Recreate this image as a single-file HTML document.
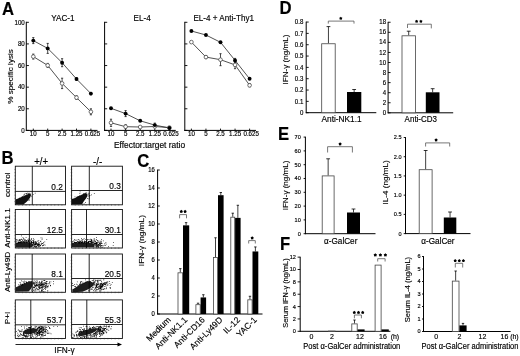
<!DOCTYPE html>
<html><head><meta charset="utf-8"><style>
html,body{margin:0;padding:0;background:#fff;width:520px;height:356px;overflow:hidden}
svg{display:block;filter:blur(0.35px)}
text{font-family:"Liberation Sans",sans-serif;fill:#000;stroke:#000;stroke-width:0.15px}
</style></head><body>
<svg width="520" height="356" viewBox="0 0 520 356">
<rect width="520" height="356" fill="#fff"/>
<text transform="translate(1.98,15) scale(0.97,1.06)" font-size="17.2" font-weight="bold">A</text>
<line x1="26.3" y1="21.8" x2="26.3" y2="130.85" stroke="#000" stroke-width="1.0"/>
<line x1="25.8" y1="130.4" x2="97.5" y2="130.4" stroke="#000" stroke-width="1.0"/>
<line x1="26.3" y1="130.4" x2="28.9" y2="130.4" stroke="#000" stroke-width="0.9"/>
<text transform="translate(24.8,132.6) scale(1,1.1)" font-size="6.2" text-anchor="end">0</text>
<line x1="26.3" y1="108.78" x2="28.9" y2="108.78" stroke="#000" stroke-width="0.9"/>
<text transform="translate(24.8,110.98) scale(1,1.1)" font-size="6.2" text-anchor="end">20</text>
<line x1="26.3" y1="87.16" x2="28.9" y2="87.16" stroke="#000" stroke-width="0.9"/>
<text transform="translate(24.8,89.36) scale(1,1.1)" font-size="6.2" text-anchor="end">40</text>
<line x1="26.3" y1="65.54" x2="28.9" y2="65.54" stroke="#000" stroke-width="0.9"/>
<text transform="translate(24.8,67.74) scale(1,1.1)" font-size="6.2" text-anchor="end">60</text>
<line x1="26.3" y1="43.92" x2="28.9" y2="43.92" stroke="#000" stroke-width="0.9"/>
<text transform="translate(24.8,46.12) scale(1,1.1)" font-size="6.2" text-anchor="end">80</text>
<line x1="26.3" y1="22.3" x2="28.9" y2="22.3" stroke="#000" stroke-width="0.9"/>
<text transform="translate(24.8,24.5) scale(1,1.1)" font-size="6.2" text-anchor="end">100</text>
<line x1="33.3" y1="130.4" x2="33.3" y2="128.6" stroke="#000" stroke-width="0.9"/>
<text transform="translate(33.3,136.4) scale(1,1.1)" font-size="6.2" text-anchor="middle">10</text>
<line x1="47.7" y1="130.4" x2="47.7" y2="128.6" stroke="#000" stroke-width="0.9"/>
<text transform="translate(47.7,136.4) scale(1,1.1)" font-size="6.2" text-anchor="middle">5</text>
<line x1="62.1" y1="130.4" x2="62.1" y2="128.6" stroke="#000" stroke-width="0.9"/>
<text transform="translate(62.1,136.4) scale(1,1.1)" font-size="6.2" text-anchor="middle">2.5</text>
<line x1="76.5" y1="130.4" x2="76.5" y2="128.6" stroke="#000" stroke-width="0.9"/>
<text transform="translate(76.5,136.4) scale(1,1.1)" font-size="6.2" text-anchor="middle">1.25</text>
<line x1="90.9" y1="130.4" x2="90.9" y2="128.6" stroke="#000" stroke-width="0.9"/>
<text transform="translate(92.5,136.4) scale(1,1.1)" font-size="6.2" text-anchor="middle">0.625</text>
<text transform="translate(62.9,21.2) scale(1,1.1)" font-size="8.1" text-anchor="middle">YAC-1</text>
<line x1="104.6" y1="21.8" x2="104.6" y2="130.85" stroke="#000" stroke-width="1.0"/>
<line x1="104.1" y1="130.4" x2="175.8" y2="130.4" stroke="#000" stroke-width="1.0"/>
<line x1="104.6" y1="130.4" x2="107.2" y2="130.4" stroke="#000" stroke-width="0.9"/>
<line x1="104.6" y1="108.78" x2="107.2" y2="108.78" stroke="#000" stroke-width="0.9"/>
<line x1="104.6" y1="87.16" x2="107.2" y2="87.16" stroke="#000" stroke-width="0.9"/>
<line x1="104.6" y1="65.54" x2="107.2" y2="65.54" stroke="#000" stroke-width="0.9"/>
<line x1="104.6" y1="43.92" x2="107.2" y2="43.92" stroke="#000" stroke-width="0.9"/>
<line x1="104.6" y1="22.3" x2="107.2" y2="22.3" stroke="#000" stroke-width="0.9"/>
<line x1="111" y1="130.4" x2="111" y2="128.6" stroke="#000" stroke-width="0.9"/>
<text transform="translate(111,136.4) scale(1,1.1)" font-size="6.2" text-anchor="middle">10</text>
<line x1="125.6" y1="130.4" x2="125.6" y2="128.6" stroke="#000" stroke-width="0.9"/>
<text transform="translate(125.6,136.4) scale(1,1.1)" font-size="6.2" text-anchor="middle">5</text>
<line x1="140.2" y1="130.4" x2="140.2" y2="128.6" stroke="#000" stroke-width="0.9"/>
<text transform="translate(140.2,136.4) scale(1,1.1)" font-size="6.2" text-anchor="middle">2.5</text>
<line x1="154.8" y1="130.4" x2="154.8" y2="128.6" stroke="#000" stroke-width="0.9"/>
<text transform="translate(154.8,136.4) scale(1,1.1)" font-size="6.2" text-anchor="middle">1.25</text>
<line x1="169.4" y1="130.4" x2="169.4" y2="128.6" stroke="#000" stroke-width="0.9"/>
<text transform="translate(171,136.4) scale(1,1.1)" font-size="6.2" text-anchor="middle">0.625</text>
<text transform="translate(142.1,21.2) scale(1,1.1)" font-size="8.1" text-anchor="middle">EL-4</text>
<line x1="184.8" y1="21.8" x2="184.8" y2="130.85" stroke="#000" stroke-width="1.0"/>
<line x1="184.3" y1="130.4" x2="256" y2="130.4" stroke="#000" stroke-width="1.0"/>
<line x1="184.8" y1="130.4" x2="187.4" y2="130.4" stroke="#000" stroke-width="0.9"/>
<line x1="184.8" y1="108.78" x2="187.4" y2="108.78" stroke="#000" stroke-width="0.9"/>
<line x1="184.8" y1="87.16" x2="187.4" y2="87.16" stroke="#000" stroke-width="0.9"/>
<line x1="184.8" y1="65.54" x2="187.4" y2="65.54" stroke="#000" stroke-width="0.9"/>
<line x1="184.8" y1="43.92" x2="187.4" y2="43.92" stroke="#000" stroke-width="0.9"/>
<line x1="184.8" y1="22.3" x2="187.4" y2="22.3" stroke="#000" stroke-width="0.9"/>
<line x1="191.4" y1="130.4" x2="191.4" y2="128.6" stroke="#000" stroke-width="0.9"/>
<text transform="translate(191.4,136.4) scale(1,1.1)" font-size="6.2" text-anchor="middle">10</text>
<line x1="205.95" y1="130.4" x2="205.95" y2="128.6" stroke="#000" stroke-width="0.9"/>
<text transform="translate(205.95,136.4) scale(1,1.1)" font-size="6.2" text-anchor="middle">5</text>
<line x1="220.5" y1="130.4" x2="220.5" y2="128.6" stroke="#000" stroke-width="0.9"/>
<text transform="translate(220.5,136.4) scale(1,1.1)" font-size="6.2" text-anchor="middle">2.5</text>
<line x1="235.05" y1="130.4" x2="235.05" y2="128.6" stroke="#000" stroke-width="0.9"/>
<text transform="translate(235.05,136.4) scale(1,1.1)" font-size="6.2" text-anchor="middle">1.25</text>
<line x1="249.6" y1="130.4" x2="249.6" y2="128.6" stroke="#000" stroke-width="0.9"/>
<text transform="translate(251.2,136.4) scale(1,1.1)" font-size="6.2" text-anchor="middle">0.625</text>
<text transform="translate(223.7,21.2) scale(1,1.1)" font-size="8.1" text-anchor="middle">EL-4 + Anti-Thy1</text>
<text transform="translate(13.3,76.4) rotate(-90) scale(1,0.909)" font-size="8.15" text-anchor="middle">% specific lysis</text>
<text transform="translate(149.5,147.9) scale(1,1.1)" font-size="8.4" text-anchor="middle">Effector:target ratio</text>
<polyline points="33.3,56.6 47.7,65.4 62.1,83.4 76.5,97.6 90.9,111.8" fill="none" stroke="#333" stroke-width="0.85"/>
<polyline points="33.3,40.6 47.7,48.4 62.1,62.7 76.5,79 90.9,93.6" fill="none" stroke="#333" stroke-width="0.85"/>
<line x1="33.3" y1="54.1" x2="33.3" y2="59.1" stroke="#000" stroke-width="0.7"/>
<line x1="32.2" y1="54.1" x2="34.4" y2="54.1" stroke="#000" stroke-width="0.7"/>
<line x1="32.2" y1="59.1" x2="34.4" y2="59.1" stroke="#000" stroke-width="0.7"/>
<line x1="47.7" y1="63.4" x2="47.7" y2="67.4" stroke="#000" stroke-width="0.7"/>
<line x1="46.6" y1="63.4" x2="48.8" y2="63.4" stroke="#000" stroke-width="0.7"/>
<line x1="46.6" y1="67.4" x2="48.8" y2="67.4" stroke="#000" stroke-width="0.7"/>
<line x1="62.1" y1="78.2" x2="62.1" y2="88.6" stroke="#000" stroke-width="0.7"/>
<line x1="61" y1="78.2" x2="63.2" y2="78.2" stroke="#000" stroke-width="0.7"/>
<line x1="61" y1="88.6" x2="63.2" y2="88.6" stroke="#000" stroke-width="0.7"/>
<line x1="76.5" y1="95.8" x2="76.5" y2="99.4" stroke="#000" stroke-width="0.7"/>
<line x1="75.4" y1="95.8" x2="77.6" y2="95.8" stroke="#000" stroke-width="0.7"/>
<line x1="75.4" y1="99.4" x2="77.6" y2="99.4" stroke="#000" stroke-width="0.7"/>
<line x1="90.9" y1="108.8" x2="90.9" y2="114.8" stroke="#000" stroke-width="0.7"/>
<line x1="89.8" y1="108.8" x2="92" y2="108.8" stroke="#000" stroke-width="0.7"/>
<line x1="89.8" y1="114.8" x2="92" y2="114.8" stroke="#000" stroke-width="0.7"/>
<line x1="33.3" y1="37.6" x2="33.3" y2="43.6" stroke="#000" stroke-width="0.7"/>
<line x1="32.2" y1="37.6" x2="34.4" y2="37.6" stroke="#000" stroke-width="0.7"/>
<line x1="32.2" y1="43.6" x2="34.4" y2="43.6" stroke="#000" stroke-width="0.7"/>
<line x1="47.7" y1="43.4" x2="47.7" y2="53.4" stroke="#000" stroke-width="0.7"/>
<line x1="46.6" y1="43.4" x2="48.8" y2="43.4" stroke="#000" stroke-width="0.7"/>
<line x1="46.6" y1="53.4" x2="48.8" y2="53.4" stroke="#000" stroke-width="0.7"/>
<line x1="62.1" y1="58.7" x2="62.1" y2="66.7" stroke="#000" stroke-width="0.7"/>
<line x1="61" y1="58.7" x2="63.2" y2="58.7" stroke="#000" stroke-width="0.7"/>
<line x1="61" y1="66.7" x2="63.2" y2="66.7" stroke="#000" stroke-width="0.7"/>
<line x1="76.5" y1="77.8" x2="76.5" y2="80.2" stroke="#000" stroke-width="0.7"/>
<line x1="75.4" y1="77.8" x2="77.6" y2="77.8" stroke="#000" stroke-width="0.7"/>
<line x1="75.4" y1="80.2" x2="77.6" y2="80.2" stroke="#000" stroke-width="0.7"/>
<line x1="90.9" y1="92.4" x2="90.9" y2="94.8" stroke="#000" stroke-width="0.7"/>
<line x1="89.8" y1="92.4" x2="92" y2="92.4" stroke="#000" stroke-width="0.7"/>
<line x1="89.8" y1="94.8" x2="92" y2="94.8" stroke="#000" stroke-width="0.7"/>
<circle cx="33.3" cy="56.6" r="1.85" fill="#fff" stroke="#444" stroke-width="0.75"/>
<circle cx="47.7" cy="65.4" r="1.85" fill="#fff" stroke="#444" stroke-width="0.75"/>
<circle cx="62.1" cy="83.4" r="1.85" fill="#fff" stroke="#444" stroke-width="0.75"/>
<circle cx="76.5" cy="97.6" r="1.85" fill="#fff" stroke="#444" stroke-width="0.75"/>
<circle cx="90.9" cy="111.8" r="1.85" fill="#fff" stroke="#444" stroke-width="0.75"/>
<circle cx="33.3" cy="40.6" r="1.95" fill="#000"/>
<circle cx="47.7" cy="48.4" r="1.95" fill="#000"/>
<circle cx="62.1" cy="62.7" r="1.95" fill="#000"/>
<circle cx="76.5" cy="79" r="1.95" fill="#000"/>
<circle cx="90.9" cy="93.6" r="1.95" fill="#000"/>
<polyline points="111,122.8 125.6,126.7 140.2,127 154.8,126.5 169.4,127.6" fill="none" stroke="#333" stroke-width="0.85"/>
<polyline points="111,108.3 125.6,113.6 140.2,120.8 154.8,125.1 169.4,128" fill="none" stroke="#333" stroke-width="0.85"/>
<line x1="111" y1="119.2" x2="111" y2="126.4" stroke="#000" stroke-width="0.7"/>
<line x1="109.9" y1="119.2" x2="112.1" y2="119.2" stroke="#000" stroke-width="0.7"/>
<line x1="109.9" y1="126.4" x2="112.1" y2="126.4" stroke="#000" stroke-width="0.7"/>
<line x1="125.6" y1="124.7" x2="125.6" y2="128.7" stroke="#000" stroke-width="0.7"/>
<line x1="124.5" y1="124.7" x2="126.7" y2="124.7" stroke="#000" stroke-width="0.7"/>
<line x1="124.5" y1="128.7" x2="126.7" y2="128.7" stroke="#000" stroke-width="0.7"/>
<line x1="125.6" y1="110.6" x2="125.6" y2="116.6" stroke="#000" stroke-width="0.7"/>
<line x1="124.5" y1="110.6" x2="126.7" y2="110.6" stroke="#000" stroke-width="0.7"/>
<line x1="124.5" y1="116.6" x2="126.7" y2="116.6" stroke="#000" stroke-width="0.7"/>
<line x1="154.8" y1="123.1" x2="154.8" y2="127.1" stroke="#000" stroke-width="0.7"/>
<line x1="153.7" y1="123.1" x2="155.9" y2="123.1" stroke="#000" stroke-width="0.7"/>
<line x1="153.7" y1="127.1" x2="155.9" y2="127.1" stroke="#000" stroke-width="0.7"/>
<circle cx="111" cy="122.8" r="1.85" fill="#fff" stroke="#444" stroke-width="0.75"/>
<circle cx="125.6" cy="126.7" r="1.85" fill="#fff" stroke="#444" stroke-width="0.75"/>
<circle cx="140.2" cy="127" r="1.85" fill="#fff" stroke="#444" stroke-width="0.75"/>
<circle cx="154.8" cy="126.5" r="1.85" fill="#fff" stroke="#444" stroke-width="0.75"/>
<circle cx="169.4" cy="127.6" r="1.85" fill="#fff" stroke="#444" stroke-width="0.75"/>
<circle cx="111" cy="108.3" r="1.95" fill="#000"/>
<circle cx="125.6" cy="113.6" r="1.95" fill="#000"/>
<circle cx="140.2" cy="120.8" r="1.95" fill="#000"/>
<circle cx="154.8" cy="125.1" r="1.95" fill="#000"/>
<circle cx="169.4" cy="128" r="1.95" fill="#000"/>
<polyline points="191.4,42.1 205.95,57.1 220.5,59.7 235.05,64.9 249.6,85.3" fill="none" stroke="#333" stroke-width="0.85"/>
<polyline points="191.4,31 205.95,35 220.5,42.3 235.05,60.4 249.6,78.8" fill="none" stroke="#333" stroke-width="0.85"/>
<line x1="205.95" y1="55.6" x2="205.95" y2="58.6" stroke="#000" stroke-width="0.7"/>
<line x1="204.85" y1="55.6" x2="207.05" y2="55.6" stroke="#000" stroke-width="0.7"/>
<line x1="204.85" y1="58.6" x2="207.05" y2="58.6" stroke="#000" stroke-width="0.7"/>
<line x1="220.5" y1="53.7" x2="220.5" y2="65.7" stroke="#000" stroke-width="0.7"/>
<line x1="219.4" y1="53.7" x2="221.6" y2="53.7" stroke="#000" stroke-width="0.7"/>
<line x1="219.4" y1="65.7" x2="221.6" y2="65.7" stroke="#000" stroke-width="0.7"/>
<line x1="235.05" y1="61.1" x2="235.05" y2="68.7" stroke="#000" stroke-width="0.7"/>
<line x1="233.95" y1="61.1" x2="236.15" y2="61.1" stroke="#000" stroke-width="0.7"/>
<line x1="233.95" y1="68.7" x2="236.15" y2="68.7" stroke="#000" stroke-width="0.7"/>
<line x1="249.6" y1="83.8" x2="249.6" y2="86.8" stroke="#000" stroke-width="0.7"/>
<line x1="248.5" y1="83.8" x2="250.7" y2="83.8" stroke="#000" stroke-width="0.7"/>
<line x1="248.5" y1="86.8" x2="250.7" y2="86.8" stroke="#000" stroke-width="0.7"/>
<line x1="235.05" y1="58.4" x2="235.05" y2="62.4" stroke="#000" stroke-width="0.7"/>
<line x1="233.95" y1="58.4" x2="236.15" y2="58.4" stroke="#000" stroke-width="0.7"/>
<line x1="233.95" y1="62.4" x2="236.15" y2="62.4" stroke="#000" stroke-width="0.7"/>
<circle cx="191.4" cy="42.1" r="1.85" fill="#fff" stroke="#444" stroke-width="0.75"/>
<circle cx="205.95" cy="57.1" r="1.85" fill="#fff" stroke="#444" stroke-width="0.75"/>
<circle cx="220.5" cy="59.7" r="1.85" fill="#fff" stroke="#444" stroke-width="0.75"/>
<circle cx="235.05" cy="64.9" r="1.85" fill="#fff" stroke="#444" stroke-width="0.75"/>
<circle cx="249.6" cy="85.3" r="1.85" fill="#fff" stroke="#444" stroke-width="0.75"/>
<circle cx="191.4" cy="31" r="1.95" fill="#000"/>
<circle cx="205.95" cy="35" r="1.95" fill="#000"/>
<circle cx="220.5" cy="42.3" r="1.95" fill="#000"/>
<circle cx="235.05" cy="60.4" r="1.95" fill="#000"/>
<circle cx="249.6" cy="78.8" r="1.95" fill="#000"/>
<text transform="translate(1.48,163.8) scale(0.97,1.06)" font-size="17.2" font-weight="bold">B</text>
<text transform="translate(41.1,164.9) scale(1,1.1)" font-size="9.6" text-anchor="middle">+/+</text>
<text transform="translate(97.6,164.7) scale(1,1.1)" font-size="9.8" text-anchor="middle">-/-</text>
<path d="M15.5 199.7L18.0 198.6L21.6 197.0L25.6 195.2L29.2 193.5L30.6 193.6L31.0 195.2L30.0 197.8L28.2 200.3L26.2 202.2L24.6 203.6L23.6 204.4L15.5 204.4z" fill="#111" fill-opacity="1"/>
<path d="M23.1 194.7h0.75v0.75h-0.75zM21.9 196.0h0.75v0.75h-0.75zM19.3 197.7h0.75v0.75h-0.75zM31.3 195.7h0.75v0.75h-0.75zM24.7 192.9h0.75v0.75h-0.75zM28.3 192.9h0.75v0.75h-0.75zM27.3 192.8h0.75v0.75h-0.75zM32.8 193.9h0.75v0.75h-0.75zM34.8 192.7h0.75v0.75h-0.75zM26.3 193.7h0.75v0.75h-0.75zM28.9 199.6h0.75v0.75h-0.75zM26.3 192.9h0.75v0.75h-0.75zM24.3 194.0h0.75v0.75h-0.75zM24.7 195.3h0.75v0.75h-0.75zM16.3 198.9h0.75v0.75h-0.75zM28.7 192.8h0.75v0.75h-0.75zM21.6 196.7h0.75v0.75h-0.75zM28.6 200.0h0.75v0.75h-0.75z" fill="#000" fill-opacity="1.0"/>
<rect x="15.3" y="166.2" width="50.2" height="38.6" fill="none" stroke="#111" stroke-width="0.9"/>
<line x1="32.3" y1="166.2" x2="32.3" y2="204.8" stroke="#000" stroke-width="0.85"/>
<line x1="15.3" y1="191.4" x2="65.5" y2="191.4" stroke="#000" stroke-width="0.85"/>
<line x1="14.4" y1="201.58" x2="15.9" y2="201.58" stroke="#333" stroke-width="0.5"/>
<line x1="14.4" y1="198.37" x2="15.9" y2="198.37" stroke="#333" stroke-width="0.5"/>
<line x1="14.4" y1="195.15" x2="15.9" y2="195.15" stroke="#333" stroke-width="0.5"/>
<line x1="14.4" y1="191.93" x2="15.9" y2="191.93" stroke="#333" stroke-width="0.5"/>
<line x1="14.4" y1="188.72" x2="15.9" y2="188.72" stroke="#333" stroke-width="0.5"/>
<line x1="14.4" y1="185.5" x2="15.9" y2="185.5" stroke="#333" stroke-width="0.5"/>
<line x1="14.4" y1="182.28" x2="15.9" y2="182.28" stroke="#333" stroke-width="0.5"/>
<line x1="14.4" y1="179.07" x2="15.9" y2="179.07" stroke="#333" stroke-width="0.5"/>
<line x1="14.4" y1="175.85" x2="15.9" y2="175.85" stroke="#333" stroke-width="0.5"/>
<line x1="14.4" y1="172.63" x2="15.9" y2="172.63" stroke="#333" stroke-width="0.5"/>
<line x1="14.4" y1="169.42" x2="15.9" y2="169.42" stroke="#333" stroke-width="0.5"/>
<line x1="18.89" y1="204.2" x2="18.89" y2="205.7" stroke="#333" stroke-width="0.5"/>
<line x1="22.47" y1="204.2" x2="22.47" y2="205.7" stroke="#333" stroke-width="0.5"/>
<line x1="26.06" y1="204.2" x2="26.06" y2="205.7" stroke="#333" stroke-width="0.5"/>
<line x1="29.64" y1="204.2" x2="29.64" y2="205.7" stroke="#333" stroke-width="0.5"/>
<line x1="33.23" y1="204.2" x2="33.23" y2="205.7" stroke="#333" stroke-width="0.5"/>
<line x1="36.81" y1="204.2" x2="36.81" y2="205.7" stroke="#333" stroke-width="0.5"/>
<line x1="40.4" y1="204.2" x2="40.4" y2="205.7" stroke="#333" stroke-width="0.5"/>
<line x1="43.99" y1="204.2" x2="43.99" y2="205.7" stroke="#333" stroke-width="0.5"/>
<line x1="47.57" y1="204.2" x2="47.57" y2="205.7" stroke="#333" stroke-width="0.5"/>
<line x1="51.16" y1="204.2" x2="51.16" y2="205.7" stroke="#333" stroke-width="0.5"/>
<line x1="54.74" y1="204.2" x2="54.74" y2="205.7" stroke="#333" stroke-width="0.5"/>
<line x1="58.33" y1="204.2" x2="58.33" y2="205.7" stroke="#333" stroke-width="0.5"/>
<line x1="61.91" y1="204.2" x2="61.91" y2="205.7" stroke="#333" stroke-width="0.5"/>
<text transform="translate(62.9,189.7) scale(1,1.07)" font-size="8.3" text-anchor="end">0.2</text>
<path d="M72.0 199.0L75.1 198.0L77.6 196.5L81.1 194.9L85.2 193.1L87.4 193.8L87.4 196.0L86.0 198.6L84.0 201.0L82.8 203.0L82.2 204.3L72.0 204.4z" fill="#111" fill-opacity="1"/>
<path d="M85.7 192.1h0.75v0.75h-0.75zM87.2 198.3h0.75v0.75h-0.75zM89.0 197.5h0.75v0.75h-0.75zM88.5 193.4h0.75v0.75h-0.75zM77.5 196.5h0.75v0.75h-0.75zM79.3 195.6h0.75v0.75h-0.75zM74.6 196.4h0.75v0.75h-0.75zM79.5 192.9h0.75v0.75h-0.75zM85.2 202.1h0.75v0.75h-0.75zM88.7 192.8h0.75v0.75h-0.75zM93.9 193.2h0.75v0.75h-0.75zM79.7 191.4h0.75v0.75h-0.75zM88.4 194.5h0.75v0.75h-0.75zM88.5 198.4h0.75v0.75h-0.75zM91.2 194.5h0.75v0.75h-0.75zM89.2 195.6h0.75v0.75h-0.75zM89.6 194.9h0.75v0.75h-0.75zM77.8 196.3h0.75v0.75h-0.75zM76.5 196.8h0.75v0.75h-0.75zM87.8 195.7h0.75v0.75h-0.75zM89.0 195.7h0.75v0.75h-0.75zM83.4 193.3h0.75v0.75h-0.75zM83.7 203.5h0.75v0.75h-0.75z" fill="#000" fill-opacity="1.0"/>
<rect x="71.6" y="166.2" width="50.8" height="38.6" fill="none" stroke="#111" stroke-width="0.9"/>
<line x1="89.3" y1="166.2" x2="89.3" y2="204.8" stroke="#000" stroke-width="0.85"/>
<line x1="71.6" y1="190.5" x2="122.4" y2="190.5" stroke="#000" stroke-width="0.85"/>
<line x1="70.7" y1="201.58" x2="72.2" y2="201.58" stroke="#333" stroke-width="0.5"/>
<line x1="70.7" y1="198.37" x2="72.2" y2="198.37" stroke="#333" stroke-width="0.5"/>
<line x1="70.7" y1="195.15" x2="72.2" y2="195.15" stroke="#333" stroke-width="0.5"/>
<line x1="70.7" y1="191.93" x2="72.2" y2="191.93" stroke="#333" stroke-width="0.5"/>
<line x1="70.7" y1="188.72" x2="72.2" y2="188.72" stroke="#333" stroke-width="0.5"/>
<line x1="70.7" y1="185.5" x2="72.2" y2="185.5" stroke="#333" stroke-width="0.5"/>
<line x1="70.7" y1="182.28" x2="72.2" y2="182.28" stroke="#333" stroke-width="0.5"/>
<line x1="70.7" y1="179.07" x2="72.2" y2="179.07" stroke="#333" stroke-width="0.5"/>
<line x1="70.7" y1="175.85" x2="72.2" y2="175.85" stroke="#333" stroke-width="0.5"/>
<line x1="70.7" y1="172.63" x2="72.2" y2="172.63" stroke="#333" stroke-width="0.5"/>
<line x1="70.7" y1="169.42" x2="72.2" y2="169.42" stroke="#333" stroke-width="0.5"/>
<line x1="75.23" y1="204.2" x2="75.23" y2="205.7" stroke="#333" stroke-width="0.5"/>
<line x1="78.86" y1="204.2" x2="78.86" y2="205.7" stroke="#333" stroke-width="0.5"/>
<line x1="82.49" y1="204.2" x2="82.49" y2="205.7" stroke="#333" stroke-width="0.5"/>
<line x1="86.11" y1="204.2" x2="86.11" y2="205.7" stroke="#333" stroke-width="0.5"/>
<line x1="89.74" y1="204.2" x2="89.74" y2="205.7" stroke="#333" stroke-width="0.5"/>
<line x1="93.37" y1="204.2" x2="93.37" y2="205.7" stroke="#333" stroke-width="0.5"/>
<line x1="97" y1="204.2" x2="97" y2="205.7" stroke="#333" stroke-width="0.5"/>
<line x1="100.63" y1="204.2" x2="100.63" y2="205.7" stroke="#333" stroke-width="0.5"/>
<line x1="104.26" y1="204.2" x2="104.26" y2="205.7" stroke="#333" stroke-width="0.5"/>
<line x1="107.89" y1="204.2" x2="107.89" y2="205.7" stroke="#333" stroke-width="0.5"/>
<line x1="111.51" y1="204.2" x2="111.51" y2="205.7" stroke="#333" stroke-width="0.5"/>
<line x1="115.14" y1="204.2" x2="115.14" y2="205.7" stroke="#333" stroke-width="0.5"/>
<line x1="118.77" y1="204.2" x2="118.77" y2="205.7" stroke="#333" stroke-width="0.5"/>
<text transform="translate(120.8,188.8) scale(1,1.07)" font-size="8.3" text-anchor="end">0.3</text>
<path d="M15.5 243.6L20.0 242.8L26.0 242.3L30.0 242.6L33.0 243.8L33.5 246.0L31.0 247.4L15.5 247.4z" fill="#111" fill-opacity="0.95"/>
<path d="M24.0 240.3h0.75v0.75h-0.75zM20.5 239.0h0.75v0.75h-0.75zM22.1 240.4h0.75v0.75h-0.75zM38.6 245.0h0.75v0.75h-0.75zM32.7 241.7h0.75v0.75h-0.75zM22.5 239.4h0.75v0.75h-0.75zM29.0 239.6h0.75v0.75h-0.75zM19.0 240.4h0.75v0.75h-0.75zM36.0 246.6h0.75v0.75h-0.75zM27.9 240.0h0.75v0.75h-0.75zM23.5 242.0h0.75v0.75h-0.75zM23.3 242.2h0.75v0.75h-0.75zM22.6 237.3h0.75v0.75h-0.75zM25.2 240.5h0.75v0.75h-0.75zM23.7 241.8h0.75v0.75h-0.75zM18.2 240.5h0.75v0.75h-0.75zM21.0 242.0h0.75v0.75h-0.75zM42.6 243.0h0.75v0.75h-0.75zM32.9 238.1h0.75v0.75h-0.75zM28.1 241.2h0.75v0.75h-0.75zM33.5 241.4h0.75v0.75h-0.75zM33.3 243.9h0.75v0.75h-0.75zM37.3 243.8h0.75v0.75h-0.75zM35.3 242.1h0.75v0.75h-0.75zM34.7 243.8h0.75v0.75h-0.75zM36.2 246.5h0.75v0.75h-0.75zM34.9 240.9h0.75v0.75h-0.75zM33.4 242.7h0.75v0.75h-0.75zM23.0 241.2h0.75v0.75h-0.75zM24.2 240.3h0.75v0.75h-0.75zM20.2 242.1h0.75v0.75h-0.75zM16.5 243.0h0.75v0.75h-0.75zM46.4 239.3h0.75v0.75h-0.75zM24.0 241.3h0.75v0.75h-0.75zM38.9 242.5h0.75v0.75h-0.75zM36.3 244.6h0.75v0.75h-0.75zM31.2 242.1h0.75v0.75h-0.75zM31.2 239.6h0.75v0.75h-0.75zM35.9 242.4h0.75v0.75h-0.75zM15.8 240.5h0.75v0.75h-0.75zM37.5 244.8h0.75v0.75h-0.75zM19.8 242.2h0.75v0.75h-0.75zM15.9 241.0h0.75v0.75h-0.75zM35.1 242.9h0.75v0.75h-0.75zM30.8 242.0h0.75v0.75h-0.75zM36.1 242.9h0.75v0.75h-0.75zM21.8 242.3h0.75v0.75h-0.75zM27.8 240.0h0.75v0.75h-0.75zM26.5 242.2h0.75v0.75h-0.75zM37.3 240.8h0.75v0.75h-0.75zM21.0 235.5h0.75v0.75h-0.75zM20.0 241.8h0.75v0.75h-0.75zM27.7 241.5h0.75v0.75h-0.75zM23.7 238.7h0.75v0.75h-0.75zM34.7 242.9h0.75v0.75h-0.75zM37.4 243.9h0.75v0.75h-0.75zM33.8 242.1h0.75v0.75h-0.75zM43.1 242.2h0.75v0.75h-0.75zM28.2 240.1h0.75v0.75h-0.75zM30.1 240.1h0.75v0.75h-0.75zM18.4 242.5h0.75v0.75h-0.75zM33.9 244.4h0.75v0.75h-0.75zM41.7 239.0h0.75v0.75h-0.75zM21.8 241.3h0.75v0.75h-0.75zM23.8 239.2h0.75v0.75h-0.75zM27.6 242.1h0.75v0.75h-0.75zM16.9 242.9h0.75v0.75h-0.75zM23.6 242.2h0.75v0.75h-0.75zM17.7 242.8h0.75v0.75h-0.75zM28.2 240.5h0.75v0.75h-0.75zM33.6 239.3h0.75v0.75h-0.75zM34.4 243.3h0.75v0.75h-0.75zM31.0 242.8h0.75v0.75h-0.75zM29.8 241.8h0.75v0.75h-0.75zM20.9 242.5h0.75v0.75h-0.75zM21.8 242.4h0.75v0.75h-0.75zM26.8 240.9h0.75v0.75h-0.75zM41.8 237.7h0.75v0.75h-0.75zM23.3 242.2h0.75v0.75h-0.75zM41.2 244.0h0.75v0.75h-0.75zM34.1 244.1h0.75v0.75h-0.75zM33.5 245.6h0.75v0.75h-0.75zM31.1 237.9h0.75v0.75h-0.75zM44.4 241.5h0.75v0.75h-0.75zM31.1 242.7h0.75v0.75h-0.75zM33.2 241.9h0.75v0.75h-0.75zM25.3 242.1h0.75v0.75h-0.75zM21.3 238.7h0.75v0.75h-0.75zM33.9 244.6h0.75v0.75h-0.75zM15.8 242.0h0.75v0.75h-0.75zM19.2 242.3h0.75v0.75h-0.75zM35.0 244.3h0.75v0.75h-0.75zM25.2 239.6h0.75v0.75h-0.75zM22.6 239.7h0.75v0.75h-0.75zM40.6 237.5h0.75v0.75h-0.75zM22.3 239.4h0.75v0.75h-0.75zM28.4 238.4h0.75v0.75h-0.75zM24.2 242.4h0.75v0.75h-0.75zM16.7 239.2h0.75v0.75h-0.75zM19.1 242.1h0.75v0.75h-0.75zM31.1 241.6h0.75v0.75h-0.75zM18.5 242.1h0.75v0.75h-0.75zM25.9 242.0h0.75v0.75h-0.75zM34.5 243.6h0.75v0.75h-0.75zM26.6 242.1h0.75v0.75h-0.75zM17.7 242.1h0.75v0.75h-0.75zM17.5 241.9h0.75v0.75h-0.75zM33.6 240.8h0.75v0.75h-0.75zM35.5 244.0h0.75v0.75h-0.75zM17.1 242.9h0.75v0.75h-0.75zM18.7 241.7h0.75v0.75h-0.75zM36.0 242.3h0.75v0.75h-0.75zM33.5 244.6h0.75v0.75h-0.75zM37.0 245.3h0.75v0.75h-0.75zM34.1 244.0h0.75v0.75h-0.75zM40.0 245.3h0.75v0.75h-0.75zM26.6 240.1h0.75v0.75h-0.75zM39.4 244.0h0.75v0.75h-0.75zM23.7 241.1h0.75v0.75h-0.75zM23.5 241.2h0.75v0.75h-0.75zM18.8 239.4h0.75v0.75h-0.75zM22.5 242.0h0.75v0.75h-0.75zM15.9 242.9h0.75v0.75h-0.75zM26.3 241.0h0.75v0.75h-0.75zM23.3 238.0h0.75v0.75h-0.75zM23.8 241.7h0.75v0.75h-0.75zM29.2 242.3h0.75v0.75h-0.75zM15.6 241.1h0.75v0.75h-0.75zM18.9 239.3h0.75v0.75h-0.75zM17.8 242.9h0.75v0.75h-0.75zM39.5 246.3h0.75v0.75h-0.75zM20.0 240.6h0.75v0.75h-0.75zM19.7 240.1h0.75v0.75h-0.75zM33.8 245.1h0.75v0.75h-0.75zM31.1 239.2h0.75v0.75h-0.75zM38.7 245.7h0.75v0.75h-0.75zM40.5 240.8h0.75v0.75h-0.75zM32.4 240.2h0.75v0.75h-0.75zM19.5 242.3h0.75v0.75h-0.75zM24.3 242.2h0.75v0.75h-0.75zM33.2 243.2h0.75v0.75h-0.75zM30.6 241.1h0.75v0.75h-0.75zM25.7 237.2h0.75v0.75h-0.75zM33.3 243.9h0.75v0.75h-0.75zM21.1 241.1h0.75v0.75h-0.75zM36.3 245.9h0.75v0.75h-0.75zM19.4 239.8h0.75v0.75h-0.75zM18.8 242.2h0.75v0.75h-0.75zM31.7 242.2h0.75v0.75h-0.75zM24.2 240.3h0.75v0.75h-0.75zM17.1 240.4h0.75v0.75h-0.75zM25.5 240.7h0.75v0.75h-0.75zM19.5 239.4h0.75v0.75h-0.75zM36.8 243.2h0.75v0.75h-0.75zM38.2 243.4h0.75v0.75h-0.75zM23.1 241.2h0.75v0.75h-0.75zM20.7 241.1h0.75v0.75h-0.75zM18.0 241.8h0.75v0.75h-0.75zM31.1 242.4h0.75v0.75h-0.75zM21.1 238.9h0.75v0.75h-0.75zM25.9 240.1h0.75v0.75h-0.75zM31.2 240.9h0.75v0.75h-0.75zM18.5 241.7h0.75v0.75h-0.75zM26.6 240.1h0.75v0.75h-0.75zM19.8 242.5h0.75v0.75h-0.75zM18.1 242.1h0.75v0.75h-0.75zM15.6 238.9h0.75v0.75h-0.75zM25.4 241.5h0.75v0.75h-0.75zM33.7 244.5h0.75v0.75h-0.75zM33.0 242.7h0.75v0.75h-0.75zM28.6 241.2h0.75v0.75h-0.75zM33.1 242.7h0.75v0.75h-0.75zM33.5 246.8h0.75v0.75h-0.75zM28.1 240.6h0.75v0.75h-0.75zM30.2 239.8h0.75v0.75h-0.75zM27.8 241.9h0.75v0.75h-0.75zM27.7 242.3h0.75v0.75h-0.75zM36.8 243.9h0.75v0.75h-0.75zM19.9 241.9h0.75v0.75h-0.75zM38.2 241.8h0.75v0.75h-0.75zM38.1 245.4h0.75v0.75h-0.75zM35.6 241.5h0.75v0.75h-0.75zM43.6 244.2h0.75v0.75h-0.75zM20.6 242.3h0.75v0.75h-0.75zM35.7 241.4h0.75v0.75h-0.75zM15.7 239.4h0.75v0.75h-0.75zM27.6 239.3h0.75v0.75h-0.75zM37.2 245.6h0.75v0.75h-0.75zM35.6 244.5h0.75v0.75h-0.75zM34.8 244.7h0.75v0.75h-0.75zM44.7 244.7h0.75v0.75h-0.75zM33.1 241.2h0.75v0.75h-0.75zM34.1 246.0h0.75v0.75h-0.75zM38.5 244.3h0.75v0.75h-0.75zM33.3 242.3h0.75v0.75h-0.75zM42.4 245.0h0.75v0.75h-0.75zM33.2 240.3h0.75v0.75h-0.75zM37.8 244.2h0.75v0.75h-0.75zM35.9 241.8h0.75v0.75h-0.75zM34.0 246.2h0.75v0.75h-0.75zM38.0 246.6h0.75v0.75h-0.75zM38.5 243.0h0.75v0.75h-0.75zM38.9 242.7h0.75v0.75h-0.75zM33.8 244.5h0.75v0.75h-0.75zM33.0 241.6h0.75v0.75h-0.75zM35.3 246.0h0.75v0.75h-0.75zM35.4 247.0h0.75v0.75h-0.75zM32.4 241.9h0.75v0.75h-0.75zM43.2 245.3h0.75v0.75h-0.75zM40.8 242.8h0.75v0.75h-0.75zM40.2 245.0h0.75v0.75h-0.75zM39.6 244.6h0.75v0.75h-0.75zM41.8 243.2h0.75v0.75h-0.75zM33.1 241.5h0.75v0.75h-0.75zM41.6 243.0h0.75v0.75h-0.75zM32.8 242.6h0.75v0.75h-0.75zM35.2 242.0h0.75v0.75h-0.75zM35.8 243.2h0.75v0.75h-0.75zM34.8 242.6h0.75v0.75h-0.75zM37.1 243.6h0.75v0.75h-0.75zM37.5 245.0h0.75v0.75h-0.75zM38.4 240.1h0.75v0.75h-0.75zM34.9 242.9h0.75v0.75h-0.75zM40.1 241.3h0.75v0.75h-0.75zM34.1 243.9h0.75v0.75h-0.75zM35.7 246.5h0.75v0.75h-0.75zM35.2 246.4h0.75v0.75h-0.75zM31.1 240.9h0.75v0.75h-0.75zM41.9 245.4h0.75v0.75h-0.75zM39.0 244.7h0.75v0.75h-0.75z" fill="#000" fill-opacity="1.0"/>
<rect x="15.3" y="209.5" width="50.2" height="38.5" fill="none" stroke="#111" stroke-width="0.9"/>
<line x1="29.4" y1="209.5" x2="29.4" y2="248" stroke="#000" stroke-width="0.85"/>
<line x1="15.3" y1="234.5" x2="65.5" y2="234.5" stroke="#000" stroke-width="0.85"/>
<line x1="14.4" y1="244.79" x2="15.9" y2="244.79" stroke="#333" stroke-width="0.5"/>
<line x1="14.4" y1="241.58" x2="15.9" y2="241.58" stroke="#333" stroke-width="0.5"/>
<line x1="14.4" y1="238.38" x2="15.9" y2="238.38" stroke="#333" stroke-width="0.5"/>
<line x1="14.4" y1="235.17" x2="15.9" y2="235.17" stroke="#333" stroke-width="0.5"/>
<line x1="14.4" y1="231.96" x2="15.9" y2="231.96" stroke="#333" stroke-width="0.5"/>
<line x1="14.4" y1="228.75" x2="15.9" y2="228.75" stroke="#333" stroke-width="0.5"/>
<line x1="14.4" y1="225.54" x2="15.9" y2="225.54" stroke="#333" stroke-width="0.5"/>
<line x1="14.4" y1="222.33" x2="15.9" y2="222.33" stroke="#333" stroke-width="0.5"/>
<line x1="14.4" y1="219.12" x2="15.9" y2="219.12" stroke="#333" stroke-width="0.5"/>
<line x1="14.4" y1="215.92" x2="15.9" y2="215.92" stroke="#333" stroke-width="0.5"/>
<line x1="14.4" y1="212.71" x2="15.9" y2="212.71" stroke="#333" stroke-width="0.5"/>
<line x1="18.89" y1="247.4" x2="18.89" y2="248.9" stroke="#333" stroke-width="0.5"/>
<line x1="22.47" y1="247.4" x2="22.47" y2="248.9" stroke="#333" stroke-width="0.5"/>
<line x1="26.06" y1="247.4" x2="26.06" y2="248.9" stroke="#333" stroke-width="0.5"/>
<line x1="29.64" y1="247.4" x2="29.64" y2="248.9" stroke="#333" stroke-width="0.5"/>
<line x1="33.23" y1="247.4" x2="33.23" y2="248.9" stroke="#333" stroke-width="0.5"/>
<line x1="36.81" y1="247.4" x2="36.81" y2="248.9" stroke="#333" stroke-width="0.5"/>
<line x1="40.4" y1="247.4" x2="40.4" y2="248.9" stroke="#333" stroke-width="0.5"/>
<line x1="43.99" y1="247.4" x2="43.99" y2="248.9" stroke="#333" stroke-width="0.5"/>
<line x1="47.57" y1="247.4" x2="47.57" y2="248.9" stroke="#333" stroke-width="0.5"/>
<line x1="51.16" y1="247.4" x2="51.16" y2="248.9" stroke="#333" stroke-width="0.5"/>
<line x1="54.74" y1="247.4" x2="54.74" y2="248.9" stroke="#333" stroke-width="0.5"/>
<line x1="58.33" y1="247.4" x2="58.33" y2="248.9" stroke="#333" stroke-width="0.5"/>
<line x1="61.91" y1="247.4" x2="61.91" y2="248.9" stroke="#333" stroke-width="0.5"/>
<text transform="translate(62.9,232.8) scale(1,1.07)" font-size="8.3" text-anchor="end">12.5</text>
<path d="M72.0 243.8L78.0 242.9L86.0 242.6L92.0 243.2L95.0 244.6L94.0 247.2L72.0 247.3z" fill="#111" fill-opacity="0.95"/>
<path d="M87.8 240.9h0.75v0.75h-0.75zM92.5 242.5h0.75v0.75h-0.75zM94.3 243.5h0.75v0.75h-0.75zM78.7 242.5h0.75v0.75h-0.75zM98.2 243.9h0.75v0.75h-0.75zM100.2 246.3h0.75v0.75h-0.75zM81.6 242.0h0.75v0.75h-0.75zM82.3 242.3h0.75v0.75h-0.75zM99.4 245.1h0.75v0.75h-0.75zM78.5 239.2h0.75v0.75h-0.75zM72.1 241.1h0.75v0.75h-0.75zM97.4 244.1h0.75v0.75h-0.75zM75.9 242.0h0.75v0.75h-0.75zM99.5 242.4h0.75v0.75h-0.75zM75.4 243.0h0.75v0.75h-0.75zM108.1 246.2h0.75v0.75h-0.75zM77.6 239.5h0.75v0.75h-0.75zM101.7 243.2h0.75v0.75h-0.75zM76.1 242.6h0.75v0.75h-0.75zM85.9 242.0h0.75v0.75h-0.75zM91.4 239.2h0.75v0.75h-0.75zM101.3 245.0h0.75v0.75h-0.75zM90.6 239.3h0.75v0.75h-0.75zM75.8 243.0h0.75v0.75h-0.75zM93.8 240.3h0.75v0.75h-0.75zM74.2 238.9h0.75v0.75h-0.75zM85.9 241.2h0.75v0.75h-0.75zM98.4 246.1h0.75v0.75h-0.75zM84.0 242.1h0.75v0.75h-0.75zM92.1 241.9h0.75v0.75h-0.75zM84.4 242.4h0.75v0.75h-0.75zM75.5 242.5h0.75v0.75h-0.75zM112.8 245.3h0.75v0.75h-0.75zM90.7 241.7h0.75v0.75h-0.75zM75.9 243.0h0.75v0.75h-0.75zM84.9 241.3h0.75v0.75h-0.75zM99.1 242.4h0.75v0.75h-0.75zM93.8 238.2h0.75v0.75h-0.75zM74.8 242.4h0.75v0.75h-0.75zM78.2 241.7h0.75v0.75h-0.75zM113.2 242.2h0.75v0.75h-0.75zM100.8 240.8h0.75v0.75h-0.75zM86.6 240.1h0.75v0.75h-0.75zM83.7 238.1h0.75v0.75h-0.75zM79.3 242.0h0.75v0.75h-0.75zM81.7 242.3h0.75v0.75h-0.75zM105.3 245.0h0.75v0.75h-0.75zM97.0 240.1h0.75v0.75h-0.75zM101.8 247.0h0.75v0.75h-0.75zM90.7 241.0h0.75v0.75h-0.75zM88.0 241.3h0.75v0.75h-0.75zM79.2 242.8h0.75v0.75h-0.75zM80.1 240.8h0.75v0.75h-0.75zM87.8 242.0h0.75v0.75h-0.75zM102.9 245.6h0.75v0.75h-0.75zM79.6 242.4h0.75v0.75h-0.75zM105.8 243.7h0.75v0.75h-0.75zM81.8 241.8h0.75v0.75h-0.75zM86.2 241.7h0.75v0.75h-0.75zM89.0 241.2h0.75v0.75h-0.75zM81.4 242.3h0.75v0.75h-0.75zM73.9 242.0h0.75v0.75h-0.75zM88.0 240.9h0.75v0.75h-0.75zM81.9 241.4h0.75v0.75h-0.75zM86.4 241.8h0.75v0.75h-0.75zM93.9 239.8h0.75v0.75h-0.75zM92.6 242.3h0.75v0.75h-0.75zM88.5 242.4h0.75v0.75h-0.75zM95.1 243.9h0.75v0.75h-0.75zM94.5 246.4h0.75v0.75h-0.75zM91.1 239.4h0.75v0.75h-0.75zM101.8 245.6h0.75v0.75h-0.75zM94.2 243.0h0.75v0.75h-0.75zM80.9 242.3h0.75v0.75h-0.75zM96.4 244.2h0.75v0.75h-0.75zM72.2 242.5h0.75v0.75h-0.75zM81.6 242.7h0.75v0.75h-0.75zM93.8 241.0h0.75v0.75h-0.75zM82.9 242.4h0.75v0.75h-0.75zM93.8 238.8h0.75v0.75h-0.75zM89.5 241.3h0.75v0.75h-0.75zM84.5 241.6h0.75v0.75h-0.75zM90.4 238.8h0.75v0.75h-0.75zM90.7 239.5h0.75v0.75h-0.75zM105.5 242.3h0.75v0.75h-0.75zM76.6 242.1h0.75v0.75h-0.75zM100.0 243.0h0.75v0.75h-0.75zM96.1 242.5h0.75v0.75h-0.75zM90.6 239.2h0.75v0.75h-0.75zM78.0 242.3h0.75v0.75h-0.75zM79.5 242.1h0.75v0.75h-0.75zM77.5 242.5h0.75v0.75h-0.75zM72.4 243.5h0.75v0.75h-0.75zM94.6 243.0h0.75v0.75h-0.75zM90.3 241.0h0.75v0.75h-0.75zM74.5 242.0h0.75v0.75h-0.75zM87.8 242.4h0.75v0.75h-0.75zM72.1 242.8h0.75v0.75h-0.75zM90.4 241.9h0.75v0.75h-0.75zM98.8 242.8h0.75v0.75h-0.75zM88.2 241.2h0.75v0.75h-0.75zM81.8 239.9h0.75v0.75h-0.75zM83.7 241.1h0.75v0.75h-0.75zM86.4 240.1h0.75v0.75h-0.75zM84.3 240.6h0.75v0.75h-0.75zM73.6 242.7h0.75v0.75h-0.75zM87.3 239.0h0.75v0.75h-0.75zM75.4 242.3h0.75v0.75h-0.75zM81.6 241.8h0.75v0.75h-0.75zM87.5 239.3h0.75v0.75h-0.75zM90.8 242.8h0.75v0.75h-0.75zM93.6 240.0h0.75v0.75h-0.75zM72.2 242.7h0.75v0.75h-0.75zM98.1 241.8h0.75v0.75h-0.75zM79.1 241.6h0.75v0.75h-0.75zM77.6 241.2h0.75v0.75h-0.75zM94.3 243.2h0.75v0.75h-0.75zM101.5 243.2h0.75v0.75h-0.75zM95.1 241.5h0.75v0.75h-0.75zM96.1 237.2h0.75v0.75h-0.75zM91.0 242.2h0.75v0.75h-0.75zM73.7 241.4h0.75v0.75h-0.75zM90.3 241.1h0.75v0.75h-0.75zM79.7 242.4h0.75v0.75h-0.75zM73.8 242.7h0.75v0.75h-0.75zM83.3 242.7h0.75v0.75h-0.75zM84.1 241.7h0.75v0.75h-0.75zM81.0 241.6h0.75v0.75h-0.75zM100.6 246.8h0.75v0.75h-0.75zM74.9 242.7h0.75v0.75h-0.75zM102.8 245.5h0.75v0.75h-0.75zM100.8 241.8h0.75v0.75h-0.75zM86.4 241.9h0.75v0.75h-0.75zM81.6 242.1h0.75v0.75h-0.75zM73.4 243.3h0.75v0.75h-0.75zM96.4 246.9h0.75v0.75h-0.75zM78.3 241.9h0.75v0.75h-0.75zM85.0 242.5h0.75v0.75h-0.75zM80.9 242.0h0.75v0.75h-0.75zM93.7 241.9h0.75v0.75h-0.75zM77.6 242.8h0.75v0.75h-0.75zM75.1 242.9h0.75v0.75h-0.75zM97.5 241.6h0.75v0.75h-0.75zM97.7 240.6h0.75v0.75h-0.75zM97.8 244.5h0.75v0.75h-0.75zM78.2 241.9h0.75v0.75h-0.75zM80.6 242.1h0.75v0.75h-0.75zM88.3 242.0h0.75v0.75h-0.75zM78.6 242.7h0.75v0.75h-0.75zM81.4 240.0h0.75v0.75h-0.75zM78.9 242.6h0.75v0.75h-0.75zM89.9 241.2h0.75v0.75h-0.75zM81.4 242.0h0.75v0.75h-0.75zM91.7 240.2h0.75v0.75h-0.75zM91.3 241.2h0.75v0.75h-0.75zM96.6 246.5h0.75v0.75h-0.75zM79.6 241.5h0.75v0.75h-0.75zM82.7 239.3h0.75v0.75h-0.75zM92.9 243.0h0.75v0.75h-0.75zM96.9 242.2h0.75v0.75h-0.75zM81.7 239.3h0.75v0.75h-0.75zM75.4 241.9h0.75v0.75h-0.75zM97.6 245.0h0.75v0.75h-0.75zM77.7 239.6h0.75v0.75h-0.75zM97.0 243.1h0.75v0.75h-0.75zM79.0 240.4h0.75v0.75h-0.75zM72.2 243.5h0.75v0.75h-0.75zM91.6 242.9h0.75v0.75h-0.75zM73.9 242.2h0.75v0.75h-0.75zM84.9 239.3h0.75v0.75h-0.75zM99.6 243.6h0.75v0.75h-0.75zM96.7 245.7h0.75v0.75h-0.75zM95.8 243.4h0.75v0.75h-0.75zM95.6 242.1h0.75v0.75h-0.75zM78.6 242.3h0.75v0.75h-0.75zM100.0 244.5h0.75v0.75h-0.75zM87.5 242.1h0.75v0.75h-0.75zM95.9 239.3h0.75v0.75h-0.75zM91.0 240.3h0.75v0.75h-0.75zM87.0 241.9h0.75v0.75h-0.75zM89.6 240.4h0.75v0.75h-0.75zM102.9 240.6h0.75v0.75h-0.75zM80.7 242.5h0.75v0.75h-0.75zM93.6 239.8h0.75v0.75h-0.75zM85.4 241.3h0.75v0.75h-0.75zM72.6 243.6h0.75v0.75h-0.75zM73.6 239.9h0.75v0.75h-0.75zM74.5 242.9h0.75v0.75h-0.75zM104.5 242.9h0.75v0.75h-0.75zM101.0 238.9h0.75v0.75h-0.75zM96.5 243.0h0.75v0.75h-0.75zM76.9 240.9h0.75v0.75h-0.75zM93.9 243.0h0.75v0.75h-0.75zM77.9 242.2h0.75v0.75h-0.75zM78.3 241.4h0.75v0.75h-0.75zM95.6 245.6h0.75v0.75h-0.75zM73.8 242.8h0.75v0.75h-0.75zM92.7 241.9h0.75v0.75h-0.75zM98.2 246.9h0.75v0.75h-0.75zM83.2 242.6h0.75v0.75h-0.75zM99.0 243.6h0.75v0.75h-0.75zM98.1 246.5h0.75v0.75h-0.75zM95.5 243.0h0.75v0.75h-0.75zM83.8 242.5h0.75v0.75h-0.75zM96.4 244.1h0.75v0.75h-0.75zM80.2 241.4h0.75v0.75h-0.75zM93.7 241.6h0.75v0.75h-0.75zM91.9 241.6h0.75v0.75h-0.75zM100.6 241.4h0.75v0.75h-0.75zM75.1 239.7h0.75v0.75h-0.75zM81.1 238.0h0.75v0.75h-0.75zM79.5 242.2h0.75v0.75h-0.75zM89.9 241.1h0.75v0.75h-0.75zM96.8 246.6h0.75v0.75h-0.75zM91.8 241.7h0.75v0.75h-0.75zM76.3 239.7h0.75v0.75h-0.75zM78.7 241.6h0.75v0.75h-0.75zM88.6 241.8h0.75v0.75h-0.75zM92.6 241.4h0.75v0.75h-0.75zM96.1 243.9h0.75v0.75h-0.75zM79.2 242.1h0.75v0.75h-0.75zM95.0 240.8h0.75v0.75h-0.75zM73.5 241.3h0.75v0.75h-0.75zM88.7 239.1h0.75v0.75h-0.75zM97.0 242.4h0.75v0.75h-0.75zM82.2 240.9h0.75v0.75h-0.75zM76.9 242.1h0.75v0.75h-0.75zM73.3 243.0h0.75v0.75h-0.75zM97.1 246.0h0.75v0.75h-0.75zM95.9 245.4h0.75v0.75h-0.75zM104.1 244.7h0.75v0.75h-0.75zM94.3 243.8h0.75v0.75h-0.75zM97.6 245.1h0.75v0.75h-0.75zM96.0 246.1h0.75v0.75h-0.75zM96.4 242.0h0.75v0.75h-0.75zM99.9 243.8h0.75v0.75h-0.75zM101.1 243.2h0.75v0.75h-0.75zM98.9 245.1h0.75v0.75h-0.75zM87.9 241.6h0.75v0.75h-0.75zM100.7 245.5h0.75v0.75h-0.75zM99.3 243.5h0.75v0.75h-0.75zM97.0 244.9h0.75v0.75h-0.75zM98.4 245.9h0.75v0.75h-0.75zM96.3 243.2h0.75v0.75h-0.75zM95.1 245.3h0.75v0.75h-0.75zM91.4 242.1h0.75v0.75h-0.75zM95.6 243.4h0.75v0.75h-0.75zM96.1 239.4h0.75v0.75h-0.75zM95.9 244.0h0.75v0.75h-0.75zM99.6 240.7h0.75v0.75h-0.75zM96.0 245.4h0.75v0.75h-0.75zM98.6 246.8h0.75v0.75h-0.75zM100.5 242.5h0.75v0.75h-0.75zM99.1 243.9h0.75v0.75h-0.75zM94.9 242.9h0.75v0.75h-0.75zM95.6 242.9h0.75v0.75h-0.75zM100.4 245.2h0.75v0.75h-0.75zM101.7 245.3h0.75v0.75h-0.75zM94.9 246.5h0.75v0.75h-0.75zM94.8 243.6h0.75v0.75h-0.75zM96.4 244.6h0.75v0.75h-0.75zM101.0 243.3h0.75v0.75h-0.75zM98.2 244.4h0.75v0.75h-0.75zM92.8 242.4h0.75v0.75h-0.75zM96.3 245.3h0.75v0.75h-0.75zM98.1 245.4h0.75v0.75h-0.75z" fill="#000" fill-opacity="1.0"/>
<rect x="71.6" y="209.5" width="50.8" height="38.5" fill="none" stroke="#111" stroke-width="0.9"/>
<line x1="86.5" y1="209.5" x2="86.5" y2="248" stroke="#000" stroke-width="0.85"/>
<line x1="71.6" y1="234.5" x2="122.4" y2="234.5" stroke="#000" stroke-width="0.85"/>
<line x1="70.7" y1="244.79" x2="72.2" y2="244.79" stroke="#333" stroke-width="0.5"/>
<line x1="70.7" y1="241.58" x2="72.2" y2="241.58" stroke="#333" stroke-width="0.5"/>
<line x1="70.7" y1="238.38" x2="72.2" y2="238.38" stroke="#333" stroke-width="0.5"/>
<line x1="70.7" y1="235.17" x2="72.2" y2="235.17" stroke="#333" stroke-width="0.5"/>
<line x1="70.7" y1="231.96" x2="72.2" y2="231.96" stroke="#333" stroke-width="0.5"/>
<line x1="70.7" y1="228.75" x2="72.2" y2="228.75" stroke="#333" stroke-width="0.5"/>
<line x1="70.7" y1="225.54" x2="72.2" y2="225.54" stroke="#333" stroke-width="0.5"/>
<line x1="70.7" y1="222.33" x2="72.2" y2="222.33" stroke="#333" stroke-width="0.5"/>
<line x1="70.7" y1="219.12" x2="72.2" y2="219.12" stroke="#333" stroke-width="0.5"/>
<line x1="70.7" y1="215.92" x2="72.2" y2="215.92" stroke="#333" stroke-width="0.5"/>
<line x1="70.7" y1="212.71" x2="72.2" y2="212.71" stroke="#333" stroke-width="0.5"/>
<line x1="75.23" y1="247.4" x2="75.23" y2="248.9" stroke="#333" stroke-width="0.5"/>
<line x1="78.86" y1="247.4" x2="78.86" y2="248.9" stroke="#333" stroke-width="0.5"/>
<line x1="82.49" y1="247.4" x2="82.49" y2="248.9" stroke="#333" stroke-width="0.5"/>
<line x1="86.11" y1="247.4" x2="86.11" y2="248.9" stroke="#333" stroke-width="0.5"/>
<line x1="89.74" y1="247.4" x2="89.74" y2="248.9" stroke="#333" stroke-width="0.5"/>
<line x1="93.37" y1="247.4" x2="93.37" y2="248.9" stroke="#333" stroke-width="0.5"/>
<line x1="97" y1="247.4" x2="97" y2="248.9" stroke="#333" stroke-width="0.5"/>
<line x1="100.63" y1="247.4" x2="100.63" y2="248.9" stroke="#333" stroke-width="0.5"/>
<line x1="104.26" y1="247.4" x2="104.26" y2="248.9" stroke="#333" stroke-width="0.5"/>
<line x1="107.89" y1="247.4" x2="107.89" y2="248.9" stroke="#333" stroke-width="0.5"/>
<line x1="111.51" y1="247.4" x2="111.51" y2="248.9" stroke="#333" stroke-width="0.5"/>
<line x1="115.14" y1="247.4" x2="115.14" y2="248.9" stroke="#333" stroke-width="0.5"/>
<line x1="118.77" y1="247.4" x2="118.77" y2="248.9" stroke="#333" stroke-width="0.5"/>
<text transform="translate(120.8,232.8) scale(1,1.07)" font-size="8.3" text-anchor="end">30.1</text>
<path d="M15.5 287.5L18.6 286.0L22.5 284.5L26.3 282.9L29.4 281.4L32.1 281.0L32.8 282.9L32.5 286.0L30.9 289.1L28.6 291.4L15.5 291.8z" fill="#111" fill-opacity="0.95"/>
<path d="M26.3 282.1h0.75v0.75h-0.75zM20.3 282.8h0.75v0.75h-0.75zM24.8 283.3h0.75v0.75h-0.75zM24.7 283.0h0.75v0.75h-0.75zM21.0 280.5h0.75v0.75h-0.75zM25.8 282.1h0.75v0.75h-0.75zM34.3 284.9h0.75v0.75h-0.75zM34.1 283.5h0.75v0.75h-0.75zM33.2 283.6h0.75v0.75h-0.75zM32.7 280.7h0.75v0.75h-0.75zM23.7 281.9h0.75v0.75h-0.75zM34.1 287.1h0.75v0.75h-0.75zM22.7 280.9h0.75v0.75h-0.75zM30.9 289.8h0.75v0.75h-0.75zM40.3 284.4h0.75v0.75h-0.75zM32.7 286.7h0.75v0.75h-0.75zM19.6 281.9h0.75v0.75h-0.75zM32.9 286.6h0.75v0.75h-0.75zM31.9 291.2h0.75v0.75h-0.75zM19.8 284.0h0.75v0.75h-0.75zM22.0 284.7h0.75v0.75h-0.75zM18.9 285.6h0.75v0.75h-0.75zM35.5 281.0h0.75v0.75h-0.75zM28.3 281.2h0.75v0.75h-0.75zM23.5 283.5h0.75v0.75h-0.75zM22.2 284.1h0.75v0.75h-0.75zM32.6 287.8h0.75v0.75h-0.75zM26.0 281.7h0.75v0.75h-0.75zM21.3 284.3h0.75v0.75h-0.75zM21.3 284.9h0.75v0.75h-0.75zM25.6 281.3h0.75v0.75h-0.75zM22.7 284.4h0.75v0.75h-0.75zM26.1 282.6h0.75v0.75h-0.75zM34.4 280.5h0.75v0.75h-0.75zM24.0 283.3h0.75v0.75h-0.75zM33.6 282.6h0.75v0.75h-0.75zM27.3 282.0h0.75v0.75h-0.75zM18.2 284.5h0.75v0.75h-0.75zM20.1 284.5h0.75v0.75h-0.75zM24.1 280.8h0.75v0.75h-0.75zM36.4 283.4h0.75v0.75h-0.75zM23.5 282.4h0.75v0.75h-0.75zM34.6 283.1h0.75v0.75h-0.75zM21.8 283.8h0.75v0.75h-0.75zM34.8 283.0h0.75v0.75h-0.75zM36.6 280.3h0.75v0.75h-0.75zM28.8 280.9h0.75v0.75h-0.75zM34.1 287.5h0.75v0.75h-0.75zM35.3 285.0h0.75v0.75h-0.75zM40.8 283.4h0.75v0.75h-0.75zM45.6 282.5h0.75v0.75h-0.75zM44.6 285.4h0.75v0.75h-0.75zM34.5 286.0h0.75v0.75h-0.75zM35.4 285.4h0.75v0.75h-0.75zM39.6 291.0h0.75v0.75h-0.75zM38.7 290.4h0.75v0.75h-0.75zM41.6 281.3h0.75v0.75h-0.75zM45.6 285.5h0.75v0.75h-0.75zM38.8 285.0h0.75v0.75h-0.75zM41.2 284.4h0.75v0.75h-0.75zM37.0 285.0h0.75v0.75h-0.75zM45.8 282.5h0.75v0.75h-0.75zM41.3 281.8h0.75v0.75h-0.75zM35.5 282.3h0.75v0.75h-0.75zM39.4 287.7h0.75v0.75h-0.75zM41.3 283.8h0.75v0.75h-0.75zM43.0 283.9h0.75v0.75h-0.75zM42.1 285.9h0.75v0.75h-0.75zM33.6 289.1h0.75v0.75h-0.75zM38.5 284.2h0.75v0.75h-0.75zM48.1 285.5h0.75v0.75h-0.75zM50.2 284.9h0.75v0.75h-0.75zM39.4 287.8h0.75v0.75h-0.75zM35.6 285.1h0.75v0.75h-0.75zM37.0 285.5h0.75v0.75h-0.75zM43.8 283.3h0.75v0.75h-0.75zM41.4 283.7h0.75v0.75h-0.75zM39.0 286.2h0.75v0.75h-0.75zM35.0 289.5h0.75v0.75h-0.75zM41.9 288.9h0.75v0.75h-0.75zM45.4 286.3h0.75v0.75h-0.75zM38.6 282.6h0.75v0.75h-0.75zM38.6 284.4h0.75v0.75h-0.75zM41.0 283.9h0.75v0.75h-0.75zM45.8 282.9h0.75v0.75h-0.75zM39.3 288.4h0.75v0.75h-0.75zM39.3 282.1h0.75v0.75h-0.75zM42.0 284.5h0.75v0.75h-0.75zM34.1 284.5h0.75v0.75h-0.75zM42.7 285.8h0.75v0.75h-0.75zM41.8 283.3h0.75v0.75h-0.75zM41.2 284.9h0.75v0.75h-0.75zM38.9 284.9h0.75v0.75h-0.75zM37.6 288.9h0.75v0.75h-0.75zM41.1 290.3h0.75v0.75h-0.75zM45.0 289.3h0.75v0.75h-0.75zM39.6 286.7h0.75v0.75h-0.75zM37.7 285.5h0.75v0.75h-0.75zM34.7 284.7h0.75v0.75h-0.75zM46.5 285.0h0.75v0.75h-0.75zM46.9 286.6h0.75v0.75h-0.75zM45.4 287.4h0.75v0.75h-0.75zM37.3 288.4h0.75v0.75h-0.75zM38.0 284.3h0.75v0.75h-0.75zM47.5 290.4h0.75v0.75h-0.75zM43.8 282.2h0.75v0.75h-0.75zM41.6 286.3h0.75v0.75h-0.75zM41.7 284.1h0.75v0.75h-0.75zM33.3 286.9h0.75v0.75h-0.75zM44.9 286.8h0.75v0.75h-0.75zM44.1 287.9h0.75v0.75h-0.75zM34.8 286.4h0.75v0.75h-0.75zM42.3 288.0h0.75v0.75h-0.75zM41.1 286.8h0.75v0.75h-0.75zM41.9 291.3h0.75v0.75h-0.75zM53.0 283.6h0.75v0.75h-0.75zM42.2 290.1h0.75v0.75h-0.75zM42.8 286.9h0.75v0.75h-0.75zM45.4 285.0h0.75v0.75h-0.75zM35.5 286.1h0.75v0.75h-0.75zM41.6 284.4h0.75v0.75h-0.75zM36.3 285.2h0.75v0.75h-0.75zM39.3 284.6h0.75v0.75h-0.75zM41.0 289.4h0.75v0.75h-0.75zM41.5 285.1h0.75v0.75h-0.75zM33.3 283.7h0.75v0.75h-0.75zM41.4 282.6h0.75v0.75h-0.75zM41.6 282.0h0.75v0.75h-0.75zM40.7 285.2h0.75v0.75h-0.75zM44.9 283.3h0.75v0.75h-0.75zM38.2 286.6h0.75v0.75h-0.75zM41.3 290.2h0.75v0.75h-0.75zM38.4 284.3h0.75v0.75h-0.75zM38.6 287.2h0.75v0.75h-0.75zM41.6 287.2h0.75v0.75h-0.75zM49.5 283.5h0.75v0.75h-0.75zM33.8 287.2h0.75v0.75h-0.75zM39.2 281.3h0.75v0.75h-0.75zM43.2 288.9h0.75v0.75h-0.75zM44.5 280.2h0.75v0.75h-0.75zM47.7 286.6h0.75v0.75h-0.75zM38.4 287.3h0.75v0.75h-0.75zM47.7 283.0h0.75v0.75h-0.75zM39.6 283.9h0.75v0.75h-0.75zM46.8 281.3h0.75v0.75h-0.75zM43.9 279.9h0.75v0.75h-0.75zM34.8 284.8h0.75v0.75h-0.75zM43.4 280.0h0.75v0.75h-0.75zM42.8 283.1h0.75v0.75h-0.75zM46.3 283.3h0.75v0.75h-0.75zM42.4 284.5h0.75v0.75h-0.75zM49.1 282.6h0.75v0.75h-0.75zM41.0 291.1h0.75v0.75h-0.75zM40.8 287.4h0.75v0.75h-0.75zM36.3 286.8h0.75v0.75h-0.75zM35.8 281.9h0.75v0.75h-0.75zM33.3 290.2h0.75v0.75h-0.75zM41.3 280.8h0.75v0.75h-0.75zM49.0 281.6h0.75v0.75h-0.75zM38.2 286.6h0.75v0.75h-0.75zM33.2 282.1h0.75v0.75h-0.75zM36.8 289.6h0.75v0.75h-0.75zM44.0 280.0h0.75v0.75h-0.75zM46.3 284.3h0.75v0.75h-0.75zM42.6 285.1h0.75v0.75h-0.75zM41.6 282.2h0.75v0.75h-0.75zM34.9 284.5h0.75v0.75h-0.75zM38.4 287.6h0.75v0.75h-0.75zM34.6 291.3h0.75v0.75h-0.75zM36.4 284.5h0.75v0.75h-0.75zM43.9 286.0h0.75v0.75h-0.75zM37.6 282.8h0.75v0.75h-0.75zM33.9 282.0h0.75v0.75h-0.75zM46.6 287.4h0.75v0.75h-0.75zM50.0 284.9h0.75v0.75h-0.75zM42.2 287.3h0.75v0.75h-0.75zM44.8 283.8h0.75v0.75h-0.75zM43.1 291.2h0.75v0.75h-0.75zM35.4 288.6h0.75v0.75h-0.75zM46.0 283.3h0.75v0.75h-0.75zM43.5 284.7h0.75v0.75h-0.75zM41.2 283.7h0.75v0.75h-0.75zM39.9 285.5h0.75v0.75h-0.75zM47.1 290.6h0.75v0.75h-0.75zM40.5 288.2h0.75v0.75h-0.75zM46.0 286.6h0.75v0.75h-0.75zM43.7 282.0h0.75v0.75h-0.75zM45.7 281.5h0.75v0.75h-0.75zM47.1 286.0h0.75v0.75h-0.75zM35.5 289.8h0.75v0.75h-0.75zM36.0 284.1h0.75v0.75h-0.75zM44.9 282.5h0.75v0.75h-0.75zM50.0 285.5h0.75v0.75h-0.75zM36.5 282.6h0.75v0.75h-0.75zM31.8 288.8h0.75v0.75h-0.75zM46.1 281.1h0.75v0.75h-0.75zM39.8 284.7h0.75v0.75h-0.75zM39.0 287.2h0.75v0.75h-0.75zM50.5 281.5h0.75v0.75h-0.75zM45.0 287.7h0.75v0.75h-0.75zM38.4 285.4h0.75v0.75h-0.75zM33.7 290.0h0.75v0.75h-0.75zM36.9 284.2h0.75v0.75h-0.75zM39.9 283.0h0.75v0.75h-0.75zM34.4 285.8h0.75v0.75h-0.75zM47.6 283.4h0.75v0.75h-0.75zM41.9 280.8h0.75v0.75h-0.75zM37.0 281.6h0.75v0.75h-0.75zM39.8 287.3h0.75v0.75h-0.75zM40.8 282.6h0.75v0.75h-0.75zM44.7 287.4h0.75v0.75h-0.75zM42.1 283.8h0.75v0.75h-0.75zM39.4 283.8h0.75v0.75h-0.75zM39.5 286.5h0.75v0.75h-0.75zM39.0 288.6h0.75v0.75h-0.75zM53.2 281.2h0.75v0.75h-0.75zM42.3 287.5h0.75v0.75h-0.75zM43.2 284.1h0.75v0.75h-0.75zM38.1 288.9h0.75v0.75h-0.75zM43.5 286.3h0.75v0.75h-0.75zM36.2 288.1h0.75v0.75h-0.75zM44.0 284.1h0.75v0.75h-0.75zM44.6 291.0h0.75v0.75h-0.75zM33.1 282.9h0.75v0.75h-0.75zM39.1 287.3h0.75v0.75h-0.75zM39.6 282.1h0.75v0.75h-0.75zM39.6 283.1h0.75v0.75h-0.75zM35.5 285.9h0.75v0.75h-0.75zM36.8 284.4h0.75v0.75h-0.75zM40.0 284.6h0.75v0.75h-0.75z" fill="#000" fill-opacity="1.0"/>
<rect x="15.3" y="254" width="50.2" height="38.3" fill="none" stroke="#111" stroke-width="0.9"/>
<line x1="32.2" y1="254" x2="32.2" y2="292.3" stroke="#000" stroke-width="0.85"/>
<line x1="15.3" y1="279" x2="65.5" y2="279" stroke="#000" stroke-width="0.85"/>
<line x1="14.4" y1="289.11" x2="15.9" y2="289.11" stroke="#333" stroke-width="0.5"/>
<line x1="14.4" y1="285.92" x2="15.9" y2="285.92" stroke="#333" stroke-width="0.5"/>
<line x1="14.4" y1="282.73" x2="15.9" y2="282.73" stroke="#333" stroke-width="0.5"/>
<line x1="14.4" y1="279.53" x2="15.9" y2="279.53" stroke="#333" stroke-width="0.5"/>
<line x1="14.4" y1="276.34" x2="15.9" y2="276.34" stroke="#333" stroke-width="0.5"/>
<line x1="14.4" y1="273.15" x2="15.9" y2="273.15" stroke="#333" stroke-width="0.5"/>
<line x1="14.4" y1="269.96" x2="15.9" y2="269.96" stroke="#333" stroke-width="0.5"/>
<line x1="14.4" y1="266.77" x2="15.9" y2="266.77" stroke="#333" stroke-width="0.5"/>
<line x1="14.4" y1="263.57" x2="15.9" y2="263.57" stroke="#333" stroke-width="0.5"/>
<line x1="14.4" y1="260.38" x2="15.9" y2="260.38" stroke="#333" stroke-width="0.5"/>
<line x1="14.4" y1="257.19" x2="15.9" y2="257.19" stroke="#333" stroke-width="0.5"/>
<line x1="18.89" y1="291.7" x2="18.89" y2="293.2" stroke="#333" stroke-width="0.5"/>
<line x1="22.47" y1="291.7" x2="22.47" y2="293.2" stroke="#333" stroke-width="0.5"/>
<line x1="26.06" y1="291.7" x2="26.06" y2="293.2" stroke="#333" stroke-width="0.5"/>
<line x1="29.64" y1="291.7" x2="29.64" y2="293.2" stroke="#333" stroke-width="0.5"/>
<line x1="33.23" y1="291.7" x2="33.23" y2="293.2" stroke="#333" stroke-width="0.5"/>
<line x1="36.81" y1="291.7" x2="36.81" y2="293.2" stroke="#333" stroke-width="0.5"/>
<line x1="40.4" y1="291.7" x2="40.4" y2="293.2" stroke="#333" stroke-width="0.5"/>
<line x1="43.99" y1="291.7" x2="43.99" y2="293.2" stroke="#333" stroke-width="0.5"/>
<line x1="47.57" y1="291.7" x2="47.57" y2="293.2" stroke="#333" stroke-width="0.5"/>
<line x1="51.16" y1="291.7" x2="51.16" y2="293.2" stroke="#333" stroke-width="0.5"/>
<line x1="54.74" y1="291.7" x2="54.74" y2="293.2" stroke="#333" stroke-width="0.5"/>
<line x1="58.33" y1="291.7" x2="58.33" y2="293.2" stroke="#333" stroke-width="0.5"/>
<line x1="61.91" y1="291.7" x2="61.91" y2="293.2" stroke="#333" stroke-width="0.5"/>
<text transform="translate(62.9,277.3) scale(1,1.07)" font-size="8.3" text-anchor="end">8.1</text>
<path d="M72.3 289.8L75.4 287.5L79.2 285.2L83.1 283.3L86.9 281.4L89.6 281.0L92.3 282.2L94.6 283.3L93.1 286.0L90.0 288.3L86.2 290.2L82.3 291.8L72.3 292.2z" fill="#111" fill-opacity="0.95"/>
<path d="M87.1 281.0h0.75v0.75h-0.75zM82.5 281.7h0.75v0.75h-0.75zM75.1 286.0h0.75v0.75h-0.75zM84.0 282.8h0.75v0.75h-0.75zM94.6 279.6h0.75v0.75h-0.75zM92.0 288.7h0.75v0.75h-0.75zM74.1 284.1h0.75v0.75h-0.75zM77.9 284.9h0.75v0.75h-0.75zM85.2 279.5h0.75v0.75h-0.75zM82.8 282.7h0.75v0.75h-0.75zM81.2 281.1h0.75v0.75h-0.75zM73.1 285.2h0.75v0.75h-0.75zM79.6 283.6h0.75v0.75h-0.75zM72.2 283.1h0.75v0.75h-0.75zM94.4 281.7h0.75v0.75h-0.75zM97.9 281.6h0.75v0.75h-0.75zM88.7 289.7h0.75v0.75h-0.75zM89.8 289.6h0.75v0.75h-0.75zM85.9 281.4h0.75v0.75h-0.75zM96.9 281.6h0.75v0.75h-0.75zM74.5 286.2h0.75v0.75h-0.75zM88.5 290.6h0.75v0.75h-0.75zM97.2 280.2h0.75v0.75h-0.75zM80.7 283.9h0.75v0.75h-0.75zM89.9 288.5h0.75v0.75h-0.75zM72.7 288.9h0.75v0.75h-0.75zM95.7 280.1h0.75v0.75h-0.75zM80.1 282.5h0.75v0.75h-0.75zM98.8 280.3h0.75v0.75h-0.75zM80.6 282.9h0.75v0.75h-0.75zM85.5 282.0h0.75v0.75h-0.75zM92.9 286.9h0.75v0.75h-0.75zM100.3 280.0h0.75v0.75h-0.75zM76.9 281.4h0.75v0.75h-0.75zM82.1 283.6h0.75v0.75h-0.75zM90.1 280.9h0.75v0.75h-0.75zM75.1 285.9h0.75v0.75h-0.75zM76.9 284.4h0.75v0.75h-0.75zM79.8 284.3h0.75v0.75h-0.75zM96.1 286.4h0.75v0.75h-0.75zM85.1 279.6h0.75v0.75h-0.75zM74.5 286.0h0.75v0.75h-0.75zM96.8 279.7h0.75v0.75h-0.75zM92.8 280.3h0.75v0.75h-0.75zM95.1 280.4h0.75v0.75h-0.75zM91.1 288.4h0.75v0.75h-0.75zM95.5 284.7h0.75v0.75h-0.75zM98.4 280.0h0.75v0.75h-0.75zM92.9 281.6h0.75v0.75h-0.75zM80.0 281.4h0.75v0.75h-0.75zM79.0 284.0h0.75v0.75h-0.75zM72.1 285.2h0.75v0.75h-0.75zM80.5 281.7h0.75v0.75h-0.75zM75.9 283.7h0.75v0.75h-0.75zM94.0 288.8h0.75v0.75h-0.75zM94.5 281.0h0.75v0.75h-0.75zM85.1 281.7h0.75v0.75h-0.75zM96.2 284.6h0.75v0.75h-0.75zM101.9 284.2h0.75v0.75h-0.75zM91.8 280.1h0.75v0.75h-0.75zM102.4 285.6h0.75v0.75h-0.75zM103.1 284.4h0.75v0.75h-0.75zM102.4 287.5h0.75v0.75h-0.75zM94.6 282.4h0.75v0.75h-0.75zM97.3 280.8h0.75v0.75h-0.75zM99.7 287.7h0.75v0.75h-0.75zM107.2 283.8h0.75v0.75h-0.75zM100.7 287.3h0.75v0.75h-0.75zM106.1 282.3h0.75v0.75h-0.75zM98.7 286.7h0.75v0.75h-0.75zM99.9 285.4h0.75v0.75h-0.75zM97.5 287.3h0.75v0.75h-0.75zM104.3 286.2h0.75v0.75h-0.75zM106.6 282.2h0.75v0.75h-0.75zM99.2 290.8h0.75v0.75h-0.75zM100.4 286.4h0.75v0.75h-0.75zM98.1 288.8h0.75v0.75h-0.75zM96.0 283.3h0.75v0.75h-0.75zM98.3 284.3h0.75v0.75h-0.75zM103.0 283.1h0.75v0.75h-0.75zM99.5 284.7h0.75v0.75h-0.75zM100.2 283.1h0.75v0.75h-0.75zM103.5 279.6h0.75v0.75h-0.75zM96.3 284.1h0.75v0.75h-0.75zM102.4 284.6h0.75v0.75h-0.75zM101.3 283.8h0.75v0.75h-0.75zM96.8 284.5h0.75v0.75h-0.75zM100.8 286.1h0.75v0.75h-0.75zM104.0 283.6h0.75v0.75h-0.75zM99.6 286.4h0.75v0.75h-0.75zM109.4 282.9h0.75v0.75h-0.75zM109.9 288.0h0.75v0.75h-0.75zM94.6 290.7h0.75v0.75h-0.75zM106.2 287.5h0.75v0.75h-0.75zM99.8 288.3h0.75v0.75h-0.75zM96.4 286.1h0.75v0.75h-0.75zM100.7 290.6h0.75v0.75h-0.75zM98.7 288.6h0.75v0.75h-0.75zM98.7 283.4h0.75v0.75h-0.75zM100.9 287.0h0.75v0.75h-0.75zM95.8 288.5h0.75v0.75h-0.75zM94.5 284.1h0.75v0.75h-0.75zM99.9 284.5h0.75v0.75h-0.75zM99.3 286.2h0.75v0.75h-0.75zM96.8 286.8h0.75v0.75h-0.75zM91.3 289.1h0.75v0.75h-0.75zM101.4 285.6h0.75v0.75h-0.75zM95.9 286.7h0.75v0.75h-0.75zM100.6 288.4h0.75v0.75h-0.75zM100.7 285.8h0.75v0.75h-0.75zM96.0 289.1h0.75v0.75h-0.75zM104.7 282.2h0.75v0.75h-0.75zM102.6 285.3h0.75v0.75h-0.75zM97.6 281.9h0.75v0.75h-0.75zM100.3 283.9h0.75v0.75h-0.75zM104.6 282.4h0.75v0.75h-0.75zM99.7 287.2h0.75v0.75h-0.75zM100.9 283.3h0.75v0.75h-0.75zM102.9 285.5h0.75v0.75h-0.75zM103.7 282.4h0.75v0.75h-0.75zM98.4 284.5h0.75v0.75h-0.75zM94.8 287.6h0.75v0.75h-0.75zM102.4 288.9h0.75v0.75h-0.75zM97.6 287.1h0.75v0.75h-0.75zM104.9 283.3h0.75v0.75h-0.75zM99.4 285.8h0.75v0.75h-0.75zM94.5 283.8h0.75v0.75h-0.75zM105.0 284.2h0.75v0.75h-0.75zM97.5 282.1h0.75v0.75h-0.75zM100.7 288.7h0.75v0.75h-0.75zM106.1 287.8h0.75v0.75h-0.75zM106.6 281.4h0.75v0.75h-0.75zM101.5 282.4h0.75v0.75h-0.75zM101.4 283.6h0.75v0.75h-0.75zM101.2 289.0h0.75v0.75h-0.75zM100.6 284.3h0.75v0.75h-0.75zM99.5 286.2h0.75v0.75h-0.75zM96.5 286.9h0.75v0.75h-0.75zM103.5 289.0h0.75v0.75h-0.75zM93.3 290.0h0.75v0.75h-0.75zM111.9 282.1h0.75v0.75h-0.75zM100.6 288.5h0.75v0.75h-0.75zM95.9 284.9h0.75v0.75h-0.75zM100.3 283.3h0.75v0.75h-0.75zM104.8 283.7h0.75v0.75h-0.75zM97.5 288.9h0.75v0.75h-0.75zM95.8 290.4h0.75v0.75h-0.75zM104.2 284.3h0.75v0.75h-0.75zM105.6 288.5h0.75v0.75h-0.75zM106.2 283.3h0.75v0.75h-0.75zM99.7 288.7h0.75v0.75h-0.75zM102.0 286.3h0.75v0.75h-0.75zM110.2 287.5h0.75v0.75h-0.75zM101.1 286.2h0.75v0.75h-0.75zM92.0 287.1h0.75v0.75h-0.75zM100.2 284.4h0.75v0.75h-0.75zM99.8 287.1h0.75v0.75h-0.75zM93.5 285.4h0.75v0.75h-0.75zM102.8 283.7h0.75v0.75h-0.75zM103.7 282.9h0.75v0.75h-0.75zM110.7 284.1h0.75v0.75h-0.75zM99.9 285.6h0.75v0.75h-0.75zM98.6 288.1h0.75v0.75h-0.75zM109.0 281.1h0.75v0.75h-0.75zM93.9 288.9h0.75v0.75h-0.75zM103.2 279.6h0.75v0.75h-0.75zM94.5 283.8h0.75v0.75h-0.75zM102.4 286.0h0.75v0.75h-0.75zM102.2 284.0h0.75v0.75h-0.75zM109.8 285.2h0.75v0.75h-0.75zM95.8 285.7h0.75v0.75h-0.75zM96.9 283.9h0.75v0.75h-0.75zM100.3 288.1h0.75v0.75h-0.75zM107.4 285.2h0.75v0.75h-0.75zM94.1 284.5h0.75v0.75h-0.75zM93.2 282.3h0.75v0.75h-0.75zM105.0 283.9h0.75v0.75h-0.75zM94.1 282.6h0.75v0.75h-0.75zM96.6 284.7h0.75v0.75h-0.75zM107.5 281.4h0.75v0.75h-0.75zM100.5 288.3h0.75v0.75h-0.75zM102.3 283.9h0.75v0.75h-0.75zM101.7 283.3h0.75v0.75h-0.75zM97.7 282.9h0.75v0.75h-0.75zM102.0 286.2h0.75v0.75h-0.75zM100.6 287.4h0.75v0.75h-0.75zM101.9 285.0h0.75v0.75h-0.75zM95.0 288.6h0.75v0.75h-0.75zM105.7 285.4h0.75v0.75h-0.75zM105.0 282.2h0.75v0.75h-0.75zM95.0 290.6h0.75v0.75h-0.75zM96.2 287.1h0.75v0.75h-0.75zM98.0 285.9h0.75v0.75h-0.75zM97.1 284.4h0.75v0.75h-0.75zM98.4 279.8h0.75v0.75h-0.75zM93.0 279.5h0.75v0.75h-0.75zM103.4 289.2h0.75v0.75h-0.75zM98.4 288.0h0.75v0.75h-0.75zM101.0 281.0h0.75v0.75h-0.75zM95.7 285.4h0.75v0.75h-0.75zM105.6 283.8h0.75v0.75h-0.75zM97.7 283.4h0.75v0.75h-0.75zM99.5 285.5h0.75v0.75h-0.75zM104.0 288.3h0.75v0.75h-0.75zM102.8 284.4h0.75v0.75h-0.75zM99.6 290.2h0.75v0.75h-0.75zM100.0 285.1h0.75v0.75h-0.75zM109.6 287.0h0.75v0.75h-0.75zM101.8 284.3h0.75v0.75h-0.75zM96.7 289.5h0.75v0.75h-0.75zM97.5 288.9h0.75v0.75h-0.75zM95.1 287.0h0.75v0.75h-0.75zM101.2 285.3h0.75v0.75h-0.75zM100.5 286.2h0.75v0.75h-0.75zM99.8 290.8h0.75v0.75h-0.75zM97.6 283.1h0.75v0.75h-0.75zM95.6 286.6h0.75v0.75h-0.75zM104.6 282.0h0.75v0.75h-0.75zM102.0 285.1h0.75v0.75h-0.75zM96.4 283.4h0.75v0.75h-0.75zM97.6 283.7h0.75v0.75h-0.75zM100.2 279.7h0.75v0.75h-0.75zM105.4 285.8h0.75v0.75h-0.75zM103.3 288.8h0.75v0.75h-0.75zM100.6 279.8h0.75v0.75h-0.75zM99.7 286.7h0.75v0.75h-0.75zM101.7 286.2h0.75v0.75h-0.75zM96.6 285.5h0.75v0.75h-0.75zM95.9 284.7h0.75v0.75h-0.75zM99.6 288.6h0.75v0.75h-0.75zM107.6 283.8h0.75v0.75h-0.75zM100.5 287.6h0.75v0.75h-0.75zM101.0 287.5h0.75v0.75h-0.75zM96.3 284.3h0.75v0.75h-0.75zM101.6 286.6h0.75v0.75h-0.75zM98.7 279.8h0.75v0.75h-0.75z" fill="#000" fill-opacity="1.0"/>
<rect x="71.6" y="254" width="50.8" height="38.3" fill="none" stroke="#111" stroke-width="0.9"/>
<line x1="89.2" y1="254" x2="89.2" y2="292.3" stroke="#000" stroke-width="0.85"/>
<line x1="71.6" y1="278.5" x2="122.4" y2="278.5" stroke="#000" stroke-width="0.85"/>
<line x1="70.7" y1="289.11" x2="72.2" y2="289.11" stroke="#333" stroke-width="0.5"/>
<line x1="70.7" y1="285.92" x2="72.2" y2="285.92" stroke="#333" stroke-width="0.5"/>
<line x1="70.7" y1="282.73" x2="72.2" y2="282.73" stroke="#333" stroke-width="0.5"/>
<line x1="70.7" y1="279.53" x2="72.2" y2="279.53" stroke="#333" stroke-width="0.5"/>
<line x1="70.7" y1="276.34" x2="72.2" y2="276.34" stroke="#333" stroke-width="0.5"/>
<line x1="70.7" y1="273.15" x2="72.2" y2="273.15" stroke="#333" stroke-width="0.5"/>
<line x1="70.7" y1="269.96" x2="72.2" y2="269.96" stroke="#333" stroke-width="0.5"/>
<line x1="70.7" y1="266.77" x2="72.2" y2="266.77" stroke="#333" stroke-width="0.5"/>
<line x1="70.7" y1="263.57" x2="72.2" y2="263.57" stroke="#333" stroke-width="0.5"/>
<line x1="70.7" y1="260.38" x2="72.2" y2="260.38" stroke="#333" stroke-width="0.5"/>
<line x1="70.7" y1="257.19" x2="72.2" y2="257.19" stroke="#333" stroke-width="0.5"/>
<line x1="75.23" y1="291.7" x2="75.23" y2="293.2" stroke="#333" stroke-width="0.5"/>
<line x1="78.86" y1="291.7" x2="78.86" y2="293.2" stroke="#333" stroke-width="0.5"/>
<line x1="82.49" y1="291.7" x2="82.49" y2="293.2" stroke="#333" stroke-width="0.5"/>
<line x1="86.11" y1="291.7" x2="86.11" y2="293.2" stroke="#333" stroke-width="0.5"/>
<line x1="89.74" y1="291.7" x2="89.74" y2="293.2" stroke="#333" stroke-width="0.5"/>
<line x1="93.37" y1="291.7" x2="93.37" y2="293.2" stroke="#333" stroke-width="0.5"/>
<line x1="97" y1="291.7" x2="97" y2="293.2" stroke="#333" stroke-width="0.5"/>
<line x1="100.63" y1="291.7" x2="100.63" y2="293.2" stroke="#333" stroke-width="0.5"/>
<line x1="104.26" y1="291.7" x2="104.26" y2="293.2" stroke="#333" stroke-width="0.5"/>
<line x1="107.89" y1="291.7" x2="107.89" y2="293.2" stroke="#333" stroke-width="0.5"/>
<line x1="111.51" y1="291.7" x2="111.51" y2="293.2" stroke="#333" stroke-width="0.5"/>
<line x1="115.14" y1="291.7" x2="115.14" y2="293.2" stroke="#333" stroke-width="0.5"/>
<line x1="118.77" y1="291.7" x2="118.77" y2="293.2" stroke="#333" stroke-width="0.5"/>
<text transform="translate(120.8,276.8) scale(1,1.07)" font-size="8.3" text-anchor="end">20.5</text>
<path d="M37.9 329.9L37.8 330.6L37.1 331.4L36.1 332.2L34.6 332.9L32.9 333.4L31.0 333.9L29.0 334.1L27.2 334.2L25.6 334.0L24.3 333.7L23.5 333.1L23.1 332.5L23.2 331.8L23.9 331.0L24.9 330.2L26.4 329.5L28.1 329.0L30.0 328.5L32.0 328.3L33.8 328.2L35.4 328.4L36.7 328.7L37.5 329.3z" fill="#111" fill-opacity="0.95"/>
<path d="M27.6 336.1h0.75v0.75h-0.75zM42.4 331.1h0.75v0.75h-0.75zM46.4 326.7h0.75v0.75h-0.75zM39.2 332.5h0.75v0.75h-0.75zM29.5 328.3h0.75v0.75h-0.75zM39.3 331.4h0.75v0.75h-0.75zM28.7 334.7h0.75v0.75h-0.75zM28.1 327.2h0.75v0.75h-0.75zM26.4 334.4h0.75v0.75h-0.75zM48.1 326.0h0.75v0.75h-0.75zM21.3 334.0h0.75v0.75h-0.75zM49.1 328.0h0.75v0.75h-0.75zM38.4 332.6h0.75v0.75h-0.75zM44.3 331.4h0.75v0.75h-0.75zM32.7 328.2h0.75v0.75h-0.75zM39.0 331.7h0.75v0.75h-0.75zM49.5 332.7h0.75v0.75h-0.75zM38.3 331.1h0.75v0.75h-0.75zM37.5 333.5h0.75v0.75h-0.75zM38.8 334.5h0.75v0.75h-0.75zM36.4 332.1h0.75v0.75h-0.75zM31.9 336.0h0.75v0.75h-0.75zM19.9 334.1h0.75v0.75h-0.75zM39.9 336.8h0.75v0.75h-0.75zM43.8 332.7h0.75v0.75h-0.75zM32.2 334.5h0.75v0.75h-0.75zM38.7 334.4h0.75v0.75h-0.75zM19.6 335.8h0.75v0.75h-0.75zM38.3 327.5h0.75v0.75h-0.75zM45.4 329.6h0.75v0.75h-0.75zM18.1 329.6h0.75v0.75h-0.75zM38.6 329.6h0.75v0.75h-0.75zM39.9 325.8h0.75v0.75h-0.75zM31.6 334.0h0.75v0.75h-0.75zM35.4 336.9h0.75v0.75h-0.75zM22.8 334.8h0.75v0.75h-0.75zM41.6 326.8h0.75v0.75h-0.75zM33.6 337.4h0.75v0.75h-0.75zM29.5 327.0h0.75v0.75h-0.75zM43.8 327.7h0.75v0.75h-0.75zM26.4 328.5h0.75v0.75h-0.75zM47.5 330.7h0.75v0.75h-0.75zM25.3 336.5h0.75v0.75h-0.75zM34.0 333.5h0.75v0.75h-0.75zM28.4 335.6h0.75v0.75h-0.75zM38.7 328.3h0.75v0.75h-0.75zM42.0 327.1h0.75v0.75h-0.75zM26.7 337.4h0.75v0.75h-0.75zM18.9 330.5h0.75v0.75h-0.75zM22.9 332.3h0.75v0.75h-0.75zM18.3 336.3h0.75v0.75h-0.75zM43.6 328.4h0.75v0.75h-0.75zM45.1 333.8h0.75v0.75h-0.75zM42.4 330.5h0.75v0.75h-0.75zM20.8 334.8h0.75v0.75h-0.75zM17.4 332.7h0.75v0.75h-0.75zM34.9 335.5h0.75v0.75h-0.75zM26.5 325.8h0.75v0.75h-0.75zM34.3 333.2h0.75v0.75h-0.75zM26.5 336.2h0.75v0.75h-0.75zM36.3 333.9h0.75v0.75h-0.75zM20.2 333.1h0.75v0.75h-0.75zM45.1 334.9h0.75v0.75h-0.75zM42.2 329.8h0.75v0.75h-0.75zM40.2 328.1h0.75v0.75h-0.75zM21.7 329.1h0.75v0.75h-0.75zM22.7 334.5h0.75v0.75h-0.75zM23.9 334.2h0.75v0.75h-0.75zM39.2 330.3h0.75v0.75h-0.75zM28.6 327.2h0.75v0.75h-0.75zM17.8 329.8h0.75v0.75h-0.75zM35.6 334.3h0.75v0.75h-0.75zM28.9 327.1h0.75v0.75h-0.75zM28.4 327.5h0.75v0.75h-0.75zM30.7 336.9h0.75v0.75h-0.75zM39.9 329.1h0.75v0.75h-0.75zM34.9 326.8h0.75v0.75h-0.75zM37.9 332.9h0.75v0.75h-0.75zM25.7 336.4h0.75v0.75h-0.75zM36.7 333.1h0.75v0.75h-0.75zM28.7 334.9h0.75v0.75h-0.75zM36.1 333.6h0.75v0.75h-0.75zM41.8 334.4h0.75v0.75h-0.75zM38.9 326.5h0.75v0.75h-0.75zM25.7 335.4h0.75v0.75h-0.75zM38.8 328.9h0.75v0.75h-0.75zM20.8 331.6h0.75v0.75h-0.75zM36.9 332.7h0.75v0.75h-0.75zM39.7 326.1h0.75v0.75h-0.75zM21.6 330.6h0.75v0.75h-0.75zM42.9 326.6h0.75v0.75h-0.75zM39.0 330.7h0.75v0.75h-0.75zM22.9 333.1h0.75v0.75h-0.75zM21.7 337.4h0.75v0.75h-0.75zM26.7 334.9h0.75v0.75h-0.75zM41.9 328.1h0.75v0.75h-0.75zM24.1 335.0h0.75v0.75h-0.75zM25.4 336.9h0.75v0.75h-0.75zM39.0 333.9h0.75v0.75h-0.75zM45.6 331.1h0.75v0.75h-0.75zM35.7 332.4h0.75v0.75h-0.75zM37.9 331.2h0.75v0.75h-0.75zM30.0 327.1h0.75v0.75h-0.75zM47.7 332.4h0.75v0.75h-0.75zM31.0 325.9h0.75v0.75h-0.75zM40.7 326.6h0.75v0.75h-0.75zM28.5 328.0h0.75v0.75h-0.75zM37.1 334.1h0.75v0.75h-0.75zM21.2 326.3h0.75v0.75h-0.75zM57.2 326.0h0.75v0.75h-0.75zM24.9 336.1h0.75v0.75h-0.75zM41.3 331.2h0.75v0.75h-0.75zM19.3 335.1h0.75v0.75h-0.75zM39.5 327.6h0.75v0.75h-0.75zM28.2 334.3h0.75v0.75h-0.75zM46.4 327.2h0.75v0.75h-0.75zM40.5 328.2h0.75v0.75h-0.75zM23.4 335.5h0.75v0.75h-0.75zM46.3 329.3h0.75v0.75h-0.75zM33.6 327.7h0.75v0.75h-0.75zM46.2 329.3h0.75v0.75h-0.75zM22.2 334.9h0.75v0.75h-0.75zM20.2 331.1h0.75v0.75h-0.75zM49.2 326.9h0.75v0.75h-0.75zM43.1 326.8h0.75v0.75h-0.75zM34.7 325.8h0.75v0.75h-0.75zM44.0 329.2h0.75v0.75h-0.75zM27.1 336.4h0.75v0.75h-0.75zM31.7 335.2h0.75v0.75h-0.75zM41.2 334.6h0.75v0.75h-0.75zM43.7 327.5h0.75v0.75h-0.75zM40.5 333.9h0.75v0.75h-0.75zM16.1 331.0h0.75v0.75h-0.75zM37.6 328.2h0.75v0.75h-0.75zM30.0 327.5h0.75v0.75h-0.75zM39.8 332.0h0.75v0.75h-0.75zM23.0 334.3h0.75v0.75h-0.75zM36.1 326.2h0.75v0.75h-0.75zM17.0 335.1h0.75v0.75h-0.75zM41.8 329.6h0.75v0.75h-0.75zM32.9 336.4h0.75v0.75h-0.75zM40.9 330.6h0.75v0.75h-0.75zM45.6 332.1h0.75v0.75h-0.75zM23.4 333.3h0.75v0.75h-0.75zM28.8 327.3h0.75v0.75h-0.75zM36.1 333.7h0.75v0.75h-0.75zM39.9 328.7h0.75v0.75h-0.75zM40.7 327.8h0.75v0.75h-0.75zM45.2 328.4h0.75v0.75h-0.75zM25.0 329.8h0.75v0.75h-0.75zM36.9 328.1h0.75v0.75h-0.75zM46.8 332.7h0.75v0.75h-0.75zM35.5 326.7h0.75v0.75h-0.75zM17.8 334.6h0.75v0.75h-0.75zM49.2 327.2h0.75v0.75h-0.75zM38.9 333.9h0.75v0.75h-0.75zM23.0 333.3h0.75v0.75h-0.75zM31.6 334.1h0.75v0.75h-0.75zM19.1 331.6h0.75v0.75h-0.75zM37.5 328.7h0.75v0.75h-0.75zM53.4 326.1h0.75v0.75h-0.75zM39.1 333.1h0.75v0.75h-0.75zM39.5 329.6h0.75v0.75h-0.75zM36.8 332.2h0.75v0.75h-0.75zM24.6 329.8h0.75v0.75h-0.75zM43.2 328.2h0.75v0.75h-0.75zM25.0 329.7h0.75v0.75h-0.75zM39.2 327.0h0.75v0.75h-0.75zM25.5 335.2h0.75v0.75h-0.75zM37.6 326.9h0.75v0.75h-0.75zM23.9 326.6h0.75v0.75h-0.75zM43.9 329.3h0.75v0.75h-0.75zM40.1 331.0h0.75v0.75h-0.75zM38.7 329.8h0.75v0.75h-0.75zM17.7 336.5h0.75v0.75h-0.75zM19.1 330.4h0.75v0.75h-0.75zM39.1 335.1h0.75v0.75h-0.75zM47.3 332.9h0.75v0.75h-0.75zM31.1 337.2h0.75v0.75h-0.75zM39.8 329.5h0.75v0.75h-0.75zM42.5 332.7h0.75v0.75h-0.75zM24.8 335.5h0.75v0.75h-0.75zM43.0 329.5h0.75v0.75h-0.75zM30.0 328.1h0.75v0.75h-0.75zM22.0 337.5h0.75v0.75h-0.75zM19.5 330.5h0.75v0.75h-0.75zM37.4 333.3h0.75v0.75h-0.75zM22.7 331.1h0.75v0.75h-0.75zM23.8 334.4h0.75v0.75h-0.75zM39.8 331.9h0.75v0.75h-0.75zM24.1 327.8h0.75v0.75h-0.75zM23.2 333.6h0.75v0.75h-0.75zM41.3 328.1h0.75v0.75h-0.75zM38.4 331.6h0.75v0.75h-0.75zM42.0 332.0h0.75v0.75h-0.75zM42.1 327.4h0.75v0.75h-0.75zM38.1 327.0h0.75v0.75h-0.75zM38.6 333.6h0.75v0.75h-0.75zM41.0 331.2h0.75v0.75h-0.75zM30.7 327.0h0.75v0.75h-0.75zM33.8 333.8h0.75v0.75h-0.75zM22.6 335.3h0.75v0.75h-0.75zM41.2 331.4h0.75v0.75h-0.75zM49.7 328.3h0.75v0.75h-0.75zM39.9 332.1h0.75v0.75h-0.75zM27.1 329.1h0.75v0.75h-0.75zM45.0 327.2h0.75v0.75h-0.75zM26.6 328.1h0.75v0.75h-0.75zM44.2 330.7h0.75v0.75h-0.75zM20.7 330.8h0.75v0.75h-0.75zM25.5 335.9h0.75v0.75h-0.75zM24.1 335.8h0.75v0.75h-0.75zM43.1 332.1h0.75v0.75h-0.75zM39.0 327.2h0.75v0.75h-0.75zM41.7 334.6h0.75v0.75h-0.75zM23.8 335.4h0.75v0.75h-0.75zM22.9 337.3h0.75v0.75h-0.75zM38.9 330.2h0.75v0.75h-0.75zM43.3 326.9h0.75v0.75h-0.75zM38.6 327.5h0.75v0.75h-0.75zM43.0 328.9h0.75v0.75h-0.75zM41.5 328.7h0.75v0.75h-0.75zM35.6 334.0h0.75v0.75h-0.75zM25.7 334.7h0.75v0.75h-0.75zM40.9 334.0h0.75v0.75h-0.75zM36.9 332.0h0.75v0.75h-0.75zM39.4 330.0h0.75v0.75h-0.75zM37.8 331.4h0.75v0.75h-0.75zM40.8 327.1h0.75v0.75h-0.75zM41.2 327.9h0.75v0.75h-0.75zM42.5 336.5h0.75v0.75h-0.75zM37.2 331.8h0.75v0.75h-0.75zM40.6 333.6h0.75v0.75h-0.75zM38.1 327.1h0.75v0.75h-0.75zM34.9 333.0h0.75v0.75h-0.75zM42.6 333.3h0.75v0.75h-0.75zM39.3 333.1h0.75v0.75h-0.75zM37.7 335.2h0.75v0.75h-0.75zM40.3 329.4h0.75v0.75h-0.75zM42.8 335.0h0.75v0.75h-0.75zM36.9 328.8h0.75v0.75h-0.75zM41.0 331.9h0.75v0.75h-0.75zM40.5 331.6h0.75v0.75h-0.75zM45.4 329.1h0.75v0.75h-0.75zM34.7 326.7h0.75v0.75h-0.75zM41.5 329.1h0.75v0.75h-0.75zM40.3 332.2h0.75v0.75h-0.75zM41.8 326.7h0.75v0.75h-0.75zM37.3 332.1h0.75v0.75h-0.75zM41.2 333.9h0.75v0.75h-0.75zM37.8 326.5h0.75v0.75h-0.75zM44.5 325.9h0.75v0.75h-0.75zM37.5 332.9h0.75v0.75h-0.75zM42.3 332.1h0.75v0.75h-0.75zM40.7 336.8h0.75v0.75h-0.75zM42.6 328.7h0.75v0.75h-0.75zM44.8 325.7h0.75v0.75h-0.75zM38.9 332.3h0.75v0.75h-0.75zM40.9 328.5h0.75v0.75h-0.75zM48.0 333.0h0.75v0.75h-0.75zM37.6 332.8h0.75v0.75h-0.75zM38.3 330.6h0.75v0.75h-0.75zM44.9 330.3h0.75v0.75h-0.75zM40.6 331.4h0.75v0.75h-0.75zM37.2 335.1h0.75v0.75h-0.75zM38.9 334.9h0.75v0.75h-0.75zM38.9 330.3h0.75v0.75h-0.75zM46.9 330.0h0.75v0.75h-0.75zM38.2 330.3h0.75v0.75h-0.75zM44.5 334.9h0.75v0.75h-0.75zM43.1 329.4h0.75v0.75h-0.75zM40.7 331.7h0.75v0.75h-0.75zM39.3 334.7h0.75v0.75h-0.75zM43.2 331.7h0.75v0.75h-0.75zM40.1 333.7h0.75v0.75h-0.75zM36.6 336.4h0.75v0.75h-0.75zM50.7 333.6h0.75v0.75h-0.75zM42.7 335.6h0.75v0.75h-0.75zM42.0 334.2h0.75v0.75h-0.75zM40.3 331.7h0.75v0.75h-0.75zM42.0 326.2h0.75v0.75h-0.75zM41.3 335.4h0.75v0.75h-0.75zM29.9 334.8h0.75v0.75h-0.75zM44.8 330.9h0.75v0.75h-0.75zM42.6 334.2h0.75v0.75h-0.75zM41.1 326.1h0.75v0.75h-0.75zM41.3 329.8h0.75v0.75h-0.75zM41.6 335.1h0.75v0.75h-0.75zM30.3 336.7h0.75v0.75h-0.75zM45.0 331.5h0.75v0.75h-0.75zM41.1 331.1h0.75v0.75h-0.75zM42.6 331.2h0.75v0.75h-0.75zM38.7 333.6h0.75v0.75h-0.75zM37.8 331.7h0.75v0.75h-0.75zM38.9 328.6h0.75v0.75h-0.75zM43.3 330.2h0.75v0.75h-0.75zM36.4 332.0h0.75v0.75h-0.75zM36.6 335.8h0.75v0.75h-0.75zM44.2 335.3h0.75v0.75h-0.75zM39.2 333.3h0.75v0.75h-0.75z" fill="#000" fill-opacity="1.0"/>
<rect x="15.3" y="299.9" width="50.2" height="38.6" fill="none" stroke="#111" stroke-width="0.9"/>
<line x1="30.8" y1="299.9" x2="30.8" y2="338.5" stroke="#000" stroke-width="0.85"/>
<line x1="15.3" y1="324.8" x2="65.5" y2="324.8" stroke="#000" stroke-width="0.85"/>
<line x1="14.4" y1="335.28" x2="15.9" y2="335.28" stroke="#333" stroke-width="0.5"/>
<line x1="14.4" y1="332.07" x2="15.9" y2="332.07" stroke="#333" stroke-width="0.5"/>
<line x1="14.4" y1="328.85" x2="15.9" y2="328.85" stroke="#333" stroke-width="0.5"/>
<line x1="14.4" y1="325.63" x2="15.9" y2="325.63" stroke="#333" stroke-width="0.5"/>
<line x1="14.4" y1="322.42" x2="15.9" y2="322.42" stroke="#333" stroke-width="0.5"/>
<line x1="14.4" y1="319.2" x2="15.9" y2="319.2" stroke="#333" stroke-width="0.5"/>
<line x1="14.4" y1="315.98" x2="15.9" y2="315.98" stroke="#333" stroke-width="0.5"/>
<line x1="14.4" y1="312.77" x2="15.9" y2="312.77" stroke="#333" stroke-width="0.5"/>
<line x1="14.4" y1="309.55" x2="15.9" y2="309.55" stroke="#333" stroke-width="0.5"/>
<line x1="14.4" y1="306.33" x2="15.9" y2="306.33" stroke="#333" stroke-width="0.5"/>
<line x1="14.4" y1="303.12" x2="15.9" y2="303.12" stroke="#333" stroke-width="0.5"/>
<line x1="18.89" y1="337.9" x2="18.89" y2="339.4" stroke="#333" stroke-width="0.5"/>
<line x1="22.47" y1="337.9" x2="22.47" y2="339.4" stroke="#333" stroke-width="0.5"/>
<line x1="26.06" y1="337.9" x2="26.06" y2="339.4" stroke="#333" stroke-width="0.5"/>
<line x1="29.64" y1="337.9" x2="29.64" y2="339.4" stroke="#333" stroke-width="0.5"/>
<line x1="33.23" y1="337.9" x2="33.23" y2="339.4" stroke="#333" stroke-width="0.5"/>
<line x1="36.81" y1="337.9" x2="36.81" y2="339.4" stroke="#333" stroke-width="0.5"/>
<line x1="40.4" y1="337.9" x2="40.4" y2="339.4" stroke="#333" stroke-width="0.5"/>
<line x1="43.99" y1="337.9" x2="43.99" y2="339.4" stroke="#333" stroke-width="0.5"/>
<line x1="47.57" y1="337.9" x2="47.57" y2="339.4" stroke="#333" stroke-width="0.5"/>
<line x1="51.16" y1="337.9" x2="51.16" y2="339.4" stroke="#333" stroke-width="0.5"/>
<line x1="54.74" y1="337.9" x2="54.74" y2="339.4" stroke="#333" stroke-width="0.5"/>
<line x1="58.33" y1="337.9" x2="58.33" y2="339.4" stroke="#333" stroke-width="0.5"/>
<line x1="61.91" y1="337.9" x2="61.91" y2="339.4" stroke="#333" stroke-width="0.5"/>
<text transform="translate(62.9,323.1) scale(1,1.07)" font-size="8.3" text-anchor="end">53.7</text>
<path d="M97.1 329.3L96.9 330.0L96.1 330.9L94.8 331.8L92.9 332.8L90.7 333.8L88.2 334.6L85.7 335.3L83.4 335.7L81.3 336.0L79.6 335.9L78.5 335.6L77.9 335.1L78.1 334.4L78.9 333.5L80.2 332.6L82.1 331.6L84.3 330.6L86.8 329.8L89.3 329.1L91.6 328.7L93.7 328.4L95.4 328.5L96.5 328.8z" fill="#111" fill-opacity="0.95"/>
<path d="M79.0 332.4h0.75v0.75h-0.75zM97.6 328.5h0.75v0.75h-0.75zM100.4 331.5h0.75v0.75h-0.75zM84.5 336.2h0.75v0.75h-0.75zM97.5 328.6h0.75v0.75h-0.75zM80.5 330.7h0.75v0.75h-0.75zM92.4 336.5h0.75v0.75h-0.75zM102.7 326.6h0.75v0.75h-0.75zM83.0 330.6h0.75v0.75h-0.75zM96.5 333.7h0.75v0.75h-0.75zM76.0 336.5h0.75v0.75h-0.75zM95.0 332.2h0.75v0.75h-0.75zM82.8 330.4h0.75v0.75h-0.75zM75.6 332.5h0.75v0.75h-0.75zM73.8 334.6h0.75v0.75h-0.75zM82.9 336.5h0.75v0.75h-0.75zM106.1 325.6h0.75v0.75h-0.75zM93.5 327.2h0.75v0.75h-0.75zM109.2 326.4h0.75v0.75h-0.75zM83.5 330.1h0.75v0.75h-0.75zM95.5 328.3h0.75v0.75h-0.75zM97.7 329.8h0.75v0.75h-0.75zM93.9 332.7h0.75v0.75h-0.75zM99.2 328.6h0.75v0.75h-0.75zM108.4 329.9h0.75v0.75h-0.75zM76.2 334.6h0.75v0.75h-0.75zM84.7 330.0h0.75v0.75h-0.75zM90.4 328.2h0.75v0.75h-0.75zM99.0 336.3h0.75v0.75h-0.75zM87.4 337.6h0.75v0.75h-0.75zM84.9 330.3h0.75v0.75h-0.75zM97.5 328.5h0.75v0.75h-0.75zM77.7 335.3h0.75v0.75h-0.75zM105.0 327.9h0.75v0.75h-0.75zM86.6 326.3h0.75v0.75h-0.75zM82.9 331.2h0.75v0.75h-0.75zM97.9 327.5h0.75v0.75h-0.75zM72.1 337.0h0.75v0.75h-0.75zM95.3 334.8h0.75v0.75h-0.75zM95.8 331.3h0.75v0.75h-0.75zM81.0 331.8h0.75v0.75h-0.75zM80.8 337.4h0.75v0.75h-0.75zM92.0 334.4h0.75v0.75h-0.75zM106.1 326.8h0.75v0.75h-0.75zM90.2 337.5h0.75v0.75h-0.75zM76.3 334.5h0.75v0.75h-0.75zM79.9 329.6h0.75v0.75h-0.75zM97.5 331.3h0.75v0.75h-0.75zM94.2 336.6h0.75v0.75h-0.75zM95.2 333.8h0.75v0.75h-0.75zM93.9 333.8h0.75v0.75h-0.75zM111.1 325.9h0.75v0.75h-0.75zM89.2 327.9h0.75v0.75h-0.75zM76.0 334.0h0.75v0.75h-0.75zM82.2 336.7h0.75v0.75h-0.75zM102.1 329.7h0.75v0.75h-0.75zM73.8 335.1h0.75v0.75h-0.75zM104.7 330.7h0.75v0.75h-0.75zM86.6 336.1h0.75v0.75h-0.75zM82.1 329.0h0.75v0.75h-0.75zM105.0 328.3h0.75v0.75h-0.75zM110.8 328.6h0.75v0.75h-0.75zM93.4 327.5h0.75v0.75h-0.75zM94.1 333.3h0.75v0.75h-0.75zM96.0 327.8h0.75v0.75h-0.75zM81.5 330.9h0.75v0.75h-0.75zM77.2 336.7h0.75v0.75h-0.75zM90.5 335.5h0.75v0.75h-0.75zM78.7 332.0h0.75v0.75h-0.75zM94.1 327.5h0.75v0.75h-0.75zM95.0 332.1h0.75v0.75h-0.75zM84.0 328.6h0.75v0.75h-0.75zM94.1 334.8h0.75v0.75h-0.75zM80.2 330.9h0.75v0.75h-0.75zM99.3 329.3h0.75v0.75h-0.75zM84.2 337.3h0.75v0.75h-0.75zM101.5 331.5h0.75v0.75h-0.75zM110.3 328.5h0.75v0.75h-0.75zM104.4 328.0h0.75v0.75h-0.75zM80.7 336.8h0.75v0.75h-0.75zM98.0 328.6h0.75v0.75h-0.75zM97.1 329.0h0.75v0.75h-0.75zM76.7 331.1h0.75v0.75h-0.75zM99.3 329.7h0.75v0.75h-0.75zM91.1 335.4h0.75v0.75h-0.75zM86.0 336.9h0.75v0.75h-0.75zM98.3 329.5h0.75v0.75h-0.75zM97.3 332.0h0.75v0.75h-0.75zM92.5 328.0h0.75v0.75h-0.75zM89.6 334.2h0.75v0.75h-0.75zM97.9 328.2h0.75v0.75h-0.75zM72.4 333.5h0.75v0.75h-0.75zM83.5 329.8h0.75v0.75h-0.75zM88.1 336.7h0.75v0.75h-0.75zM104.6 330.1h0.75v0.75h-0.75zM98.2 331.6h0.75v0.75h-0.75zM73.7 336.6h0.75v0.75h-0.75zM82.7 336.2h0.75v0.75h-0.75zM89.8 337.5h0.75v0.75h-0.75zM102.8 327.7h0.75v0.75h-0.75zM92.4 327.2h0.75v0.75h-0.75zM106.6 329.6h0.75v0.75h-0.75zM93.0 332.9h0.75v0.75h-0.75zM101.3 330.8h0.75v0.75h-0.75zM98.2 331.3h0.75v0.75h-0.75zM79.3 331.1h0.75v0.75h-0.75zM98.0 328.4h0.75v0.75h-0.75zM82.4 329.2h0.75v0.75h-0.75zM78.1 333.8h0.75v0.75h-0.75zM99.9 335.7h0.75v0.75h-0.75zM104.8 325.9h0.75v0.75h-0.75zM99.6 328.5h0.75v0.75h-0.75zM86.9 327.7h0.75v0.75h-0.75zM90.5 328.1h0.75v0.75h-0.75zM86.3 335.6h0.75v0.75h-0.75zM95.9 326.0h0.75v0.75h-0.75zM98.7 333.1h0.75v0.75h-0.75zM93.8 336.5h0.75v0.75h-0.75zM87.2 334.9h0.75v0.75h-0.75zM108.1 326.6h0.75v0.75h-0.75zM102.0 330.9h0.75v0.75h-0.75zM78.6 333.4h0.75v0.75h-0.75zM89.9 334.3h0.75v0.75h-0.75zM97.9 328.7h0.75v0.75h-0.75zM108.8 325.5h0.75v0.75h-0.75zM103.4 331.9h0.75v0.75h-0.75zM104.1 328.0h0.75v0.75h-0.75zM93.1 326.2h0.75v0.75h-0.75zM96.6 332.9h0.75v0.75h-0.75zM88.9 335.2h0.75v0.75h-0.75zM95.7 334.5h0.75v0.75h-0.75zM73.4 334.4h0.75v0.75h-0.75zM79.2 332.0h0.75v0.75h-0.75zM96.9 328.2h0.75v0.75h-0.75zM96.4 331.4h0.75v0.75h-0.75zM81.0 327.5h0.75v0.75h-0.75zM79.4 331.3h0.75v0.75h-0.75zM103.7 325.4h0.75v0.75h-0.75zM79.3 336.2h0.75v0.75h-0.75zM100.0 331.4h0.75v0.75h-0.75zM79.1 329.0h0.75v0.75h-0.75zM98.8 330.6h0.75v0.75h-0.75zM100.0 329.0h0.75v0.75h-0.75zM90.2 327.5h0.75v0.75h-0.75zM90.4 334.2h0.75v0.75h-0.75zM81.3 331.4h0.75v0.75h-0.75zM84.3 337.3h0.75v0.75h-0.75zM78.8 327.4h0.75v0.75h-0.75zM94.6 326.7h0.75v0.75h-0.75zM102.3 330.9h0.75v0.75h-0.75zM91.9 327.1h0.75v0.75h-0.75zM99.4 331.6h0.75v0.75h-0.75zM98.3 325.9h0.75v0.75h-0.75zM90.4 335.7h0.75v0.75h-0.75zM88.7 327.8h0.75v0.75h-0.75zM84.1 336.9h0.75v0.75h-0.75zM99.6 326.9h0.75v0.75h-0.75zM99.0 326.8h0.75v0.75h-0.75zM77.5 336.5h0.75v0.75h-0.75zM83.0 325.7h0.75v0.75h-0.75zM80.5 332.1h0.75v0.75h-0.75zM80.3 331.8h0.75v0.75h-0.75zM80.5 327.3h0.75v0.75h-0.75zM97.4 329.6h0.75v0.75h-0.75zM77.5 331.0h0.75v0.75h-0.75zM90.6 334.6h0.75v0.75h-0.75zM92.6 335.7h0.75v0.75h-0.75zM76.0 335.3h0.75v0.75h-0.75zM84.2 337.2h0.75v0.75h-0.75zM104.5 325.7h0.75v0.75h-0.75zM95.6 333.5h0.75v0.75h-0.75zM100.0 333.8h0.75v0.75h-0.75zM80.1 337.1h0.75v0.75h-0.75zM95.0 332.1h0.75v0.75h-0.75zM84.1 329.6h0.75v0.75h-0.75zM102.5 331.7h0.75v0.75h-0.75zM95.7 337.2h0.75v0.75h-0.75zM108.2 326.1h0.75v0.75h-0.75zM89.2 326.6h0.75v0.75h-0.75zM75.7 331.7h0.75v0.75h-0.75zM97.4 329.1h0.75v0.75h-0.75zM80.0 329.2h0.75v0.75h-0.75zM90.0 335.6h0.75v0.75h-0.75zM102.8 332.4h0.75v0.75h-0.75zM83.1 329.4h0.75v0.75h-0.75zM102.0 331.7h0.75v0.75h-0.75zM95.8 331.4h0.75v0.75h-0.75zM89.5 328.4h0.75v0.75h-0.75zM96.5 331.5h0.75v0.75h-0.75zM104.0 329.7h0.75v0.75h-0.75zM101.6 330.6h0.75v0.75h-0.75zM77.4 330.1h0.75v0.75h-0.75zM80.7 336.4h0.75v0.75h-0.75zM97.7 329.9h0.75v0.75h-0.75zM91.4 336.8h0.75v0.75h-0.75zM83.8 328.3h0.75v0.75h-0.75zM74.2 335.6h0.75v0.75h-0.75zM96.2 332.0h0.75v0.75h-0.75zM87.6 334.9h0.75v0.75h-0.75zM86.1 335.2h0.75v0.75h-0.75zM97.0 326.1h0.75v0.75h-0.75zM77.6 336.8h0.75v0.75h-0.75zM72.6 337.0h0.75v0.75h-0.75zM95.4 332.8h0.75v0.75h-0.75zM99.9 328.4h0.75v0.75h-0.75zM95.7 328.0h0.75v0.75h-0.75zM99.6 331.9h0.75v0.75h-0.75zM85.7 325.9h0.75v0.75h-0.75zM79.2 336.2h0.75v0.75h-0.75zM98.3 327.5h0.75v0.75h-0.75zM100.4 326.3h0.75v0.75h-0.75zM95.2 327.8h0.75v0.75h-0.75zM94.1 335.5h0.75v0.75h-0.75zM96.1 335.1h0.75v0.75h-0.75zM82.6 336.3h0.75v0.75h-0.75zM101.3 326.7h0.75v0.75h-0.75zM99.9 330.2h0.75v0.75h-0.75zM98.7 328.6h0.75v0.75h-0.75zM83.8 336.2h0.75v0.75h-0.75zM101.5 334.7h0.75v0.75h-0.75zM78.3 333.2h0.75v0.75h-0.75zM85.5 336.4h0.75v0.75h-0.75zM90.0 328.4h0.75v0.75h-0.75zM77.3 334.7h0.75v0.75h-0.75zM80.6 330.4h0.75v0.75h-0.75zM100.5 330.1h0.75v0.75h-0.75zM99.9 329.6h0.75v0.75h-0.75zM104.6 328.3h0.75v0.75h-0.75zM92.3 327.8h0.75v0.75h-0.75zM92.4 327.0h0.75v0.75h-0.75zM97.3 328.6h0.75v0.75h-0.75zM97.5 330.0h0.75v0.75h-0.75zM105.6 327.9h0.75v0.75h-0.75zM103.2 330.6h0.75v0.75h-0.75zM102.1 334.4h0.75v0.75h-0.75zM104.2 329.1h0.75v0.75h-0.75zM103.8 325.7h0.75v0.75h-0.75zM98.8 328.2h0.75v0.75h-0.75zM101.6 333.6h0.75v0.75h-0.75zM99.1 334.2h0.75v0.75h-0.75zM97.0 334.3h0.75v0.75h-0.75zM103.7 328.8h0.75v0.75h-0.75zM100.5 329.8h0.75v0.75h-0.75zM100.6 329.4h0.75v0.75h-0.75zM99.9 327.8h0.75v0.75h-0.75zM102.8 333.6h0.75v0.75h-0.75zM99.0 330.3h0.75v0.75h-0.75zM99.9 328.2h0.75v0.75h-0.75zM99.9 330.0h0.75v0.75h-0.75zM100.6 333.7h0.75v0.75h-0.75zM99.6 326.4h0.75v0.75h-0.75zM94.5 332.9h0.75v0.75h-0.75zM98.3 328.9h0.75v0.75h-0.75zM99.3 328.5h0.75v0.75h-0.75zM99.2 332.4h0.75v0.75h-0.75zM103.3 330.5h0.75v0.75h-0.75zM98.5 327.0h0.75v0.75h-0.75zM103.8 332.7h0.75v0.75h-0.75zM105.5 331.5h0.75v0.75h-0.75zM101.3 330.6h0.75v0.75h-0.75zM100.7 332.9h0.75v0.75h-0.75zM100.3 335.2h0.75v0.75h-0.75zM102.7 328.5h0.75v0.75h-0.75zM99.0 326.3h0.75v0.75h-0.75zM97.1 330.0h0.75v0.75h-0.75zM108.7 325.8h0.75v0.75h-0.75zM103.5 329.3h0.75v0.75h-0.75zM99.3 331.7h0.75v0.75h-0.75zM93.1 334.1h0.75v0.75h-0.75zM107.5 328.8h0.75v0.75h-0.75zM99.9 330.4h0.75v0.75h-0.75zM102.2 328.2h0.75v0.75h-0.75zM100.8 331.1h0.75v0.75h-0.75zM98.9 331.2h0.75v0.75h-0.75zM101.7 331.3h0.75v0.75h-0.75zM99.1 333.2h0.75v0.75h-0.75zM100.0 325.9h0.75v0.75h-0.75zM96.3 335.7h0.75v0.75h-0.75zM100.5 326.7h0.75v0.75h-0.75zM96.7 331.2h0.75v0.75h-0.75zM106.3 332.4h0.75v0.75h-0.75zM98.5 329.7h0.75v0.75h-0.75zM106.6 325.9h0.75v0.75h-0.75zM106.1 329.3h0.75v0.75h-0.75zM101.1 332.9h0.75v0.75h-0.75zM101.3 327.6h0.75v0.75h-0.75zM102.7 332.7h0.75v0.75h-0.75zM91.0 335.6h0.75v0.75h-0.75zM103.2 332.9h0.75v0.75h-0.75zM103.1 329.7h0.75v0.75h-0.75zM101.9 330.5h0.75v0.75h-0.75zM97.6 330.3h0.75v0.75h-0.75zM100.2 328.8h0.75v0.75h-0.75zM93.6 328.0h0.75v0.75h-0.75zM102.2 330.7h0.75v0.75h-0.75zM99.7 327.2h0.75v0.75h-0.75zM103.0 328.3h0.75v0.75h-0.75zM93.1 335.6h0.75v0.75h-0.75zM95.7 336.7h0.75v0.75h-0.75zM101.7 328.5h0.75v0.75h-0.75zM106.4 331.7h0.75v0.75h-0.75zM100.0 325.8h0.75v0.75h-0.75z" fill="#000" fill-opacity="1.0"/>
<rect x="71.6" y="299.9" width="50.8" height="38.6" fill="none" stroke="#111" stroke-width="0.9"/>
<line x1="86.8" y1="299.9" x2="86.8" y2="338.5" stroke="#000" stroke-width="0.85"/>
<line x1="71.6" y1="324.5" x2="122.4" y2="324.5" stroke="#000" stroke-width="0.85"/>
<line x1="70.7" y1="335.28" x2="72.2" y2="335.28" stroke="#333" stroke-width="0.5"/>
<line x1="70.7" y1="332.07" x2="72.2" y2="332.07" stroke="#333" stroke-width="0.5"/>
<line x1="70.7" y1="328.85" x2="72.2" y2="328.85" stroke="#333" stroke-width="0.5"/>
<line x1="70.7" y1="325.63" x2="72.2" y2="325.63" stroke="#333" stroke-width="0.5"/>
<line x1="70.7" y1="322.42" x2="72.2" y2="322.42" stroke="#333" stroke-width="0.5"/>
<line x1="70.7" y1="319.2" x2="72.2" y2="319.2" stroke="#333" stroke-width="0.5"/>
<line x1="70.7" y1="315.98" x2="72.2" y2="315.98" stroke="#333" stroke-width="0.5"/>
<line x1="70.7" y1="312.77" x2="72.2" y2="312.77" stroke="#333" stroke-width="0.5"/>
<line x1="70.7" y1="309.55" x2="72.2" y2="309.55" stroke="#333" stroke-width="0.5"/>
<line x1="70.7" y1="306.33" x2="72.2" y2="306.33" stroke="#333" stroke-width="0.5"/>
<line x1="70.7" y1="303.12" x2="72.2" y2="303.12" stroke="#333" stroke-width="0.5"/>
<line x1="75.23" y1="337.9" x2="75.23" y2="339.4" stroke="#333" stroke-width="0.5"/>
<line x1="78.86" y1="337.9" x2="78.86" y2="339.4" stroke="#333" stroke-width="0.5"/>
<line x1="82.49" y1="337.9" x2="82.49" y2="339.4" stroke="#333" stroke-width="0.5"/>
<line x1="86.11" y1="337.9" x2="86.11" y2="339.4" stroke="#333" stroke-width="0.5"/>
<line x1="89.74" y1="337.9" x2="89.74" y2="339.4" stroke="#333" stroke-width="0.5"/>
<line x1="93.37" y1="337.9" x2="93.37" y2="339.4" stroke="#333" stroke-width="0.5"/>
<line x1="97" y1="337.9" x2="97" y2="339.4" stroke="#333" stroke-width="0.5"/>
<line x1="100.63" y1="337.9" x2="100.63" y2="339.4" stroke="#333" stroke-width="0.5"/>
<line x1="104.26" y1="337.9" x2="104.26" y2="339.4" stroke="#333" stroke-width="0.5"/>
<line x1="107.89" y1="337.9" x2="107.89" y2="339.4" stroke="#333" stroke-width="0.5"/>
<line x1="111.51" y1="337.9" x2="111.51" y2="339.4" stroke="#333" stroke-width="0.5"/>
<line x1="115.14" y1="337.9" x2="115.14" y2="339.4" stroke="#333" stroke-width="0.5"/>
<line x1="118.77" y1="337.9" x2="118.77" y2="339.4" stroke="#333" stroke-width="0.5"/>
<text transform="translate(120.8,322.8) scale(1,1.07)" font-size="8.3" text-anchor="end">55.3</text>
<text transform="translate(10.1,184.7) rotate(-90) scale(1,0.909)" font-size="8.2" text-anchor="middle">control</text>
<text transform="translate(10.1,228) rotate(-90) scale(1,0.909)" font-size="8.2" text-anchor="middle">Anti-NK1.1</text>
<text transform="translate(10.1,272) rotate(-90) scale(1,0.909)" font-size="8.2" text-anchor="middle">Anti-Ly49D</text>
<text transform="translate(10.1,317.9) rotate(-90) scale(1,0.909)" font-size="8.2" text-anchor="middle">P+I</text>
<line x1="15.5" y1="344.5" x2="118.5" y2="344.5" stroke="#222" stroke-width="1.0"/>
<path d="M117.5 342.6 L122 344.5 L117.5 346.4 z" fill="#000"/>
<text transform="translate(64.5,352.9) scale(1,1.1)" font-size="8.3" text-anchor="middle">IFN-γ</text>
<text transform="translate(137.22,166.7) scale(0.97,1.06)" font-size="17.2" font-weight="bold">C</text>
<line x1="157.6" y1="169.6" x2="157.6" y2="314.4" stroke="#000" stroke-width="1.0"/>
<line x1="157.2" y1="314" x2="262.5" y2="314" stroke="#000" stroke-width="1.0"/>
<line x1="157.6" y1="314" x2="159.8" y2="314" stroke="#000" stroke-width="0.9"/>
<text transform="translate(154.8,316) scale(1,1.1)" font-size="5.9" text-anchor="end">0</text>
<line x1="157.6" y1="296" x2="159.8" y2="296" stroke="#000" stroke-width="0.9"/>
<text transform="translate(154.8,298) scale(1,1.1)" font-size="5.9" text-anchor="end">2</text>
<line x1="157.6" y1="278" x2="159.8" y2="278" stroke="#000" stroke-width="0.9"/>
<text transform="translate(154.8,280) scale(1,1.1)" font-size="5.9" text-anchor="end">4</text>
<line x1="157.6" y1="260" x2="159.8" y2="260" stroke="#000" stroke-width="0.9"/>
<text transform="translate(154.8,262) scale(1,1.1)" font-size="5.9" text-anchor="end">6</text>
<line x1="157.6" y1="242" x2="159.8" y2="242" stroke="#000" stroke-width="0.9"/>
<text transform="translate(154.8,244) scale(1,1.1)" font-size="5.9" text-anchor="end">8</text>
<line x1="157.6" y1="224" x2="159.8" y2="224" stroke="#000" stroke-width="0.9"/>
<text transform="translate(154.8,226) scale(1,1.1)" font-size="5.9" text-anchor="end">10</text>
<line x1="157.6" y1="206" x2="159.8" y2="206" stroke="#000" stroke-width="0.9"/>
<text transform="translate(154.8,208) scale(1,1.1)" font-size="5.9" text-anchor="end">12</text>
<line x1="157.6" y1="188" x2="159.8" y2="188" stroke="#000" stroke-width="0.9"/>
<text transform="translate(154.8,190) scale(1,1.1)" font-size="5.9" text-anchor="end">14</text>
<line x1="157.6" y1="170" x2="159.8" y2="170" stroke="#000" stroke-width="0.9"/>
<text transform="translate(154.8,172) scale(1,1.1)" font-size="5.9" text-anchor="end">16</text>
<line x1="180.3" y1="268.64" x2="180.3" y2="272.42" stroke="#000" stroke-width="0.75"/>
<line x1="179.1" y1="268.64" x2="181.5" y2="268.64" stroke="#000" stroke-width="0.8"/>
<rect x="178" y="272.82" width="4.6" height="41.18" fill="#fff" stroke="#444" stroke-width="0.8"/>
<line x1="186.1" y1="222.65" x2="186.1" y2="225.35" stroke="#000" stroke-width="0.75"/>
<line x1="184.9" y1="222.65" x2="187.3" y2="222.65" stroke="#000" stroke-width="0.8"/>
<rect x="183" y="225.35" width="6.2" height="88.65" fill="#000"/>
<line x1="198.05" y1="303.2" x2="198.05" y2="304.28" stroke="#000" stroke-width="0.75"/>
<line x1="196.85" y1="303.2" x2="199.25" y2="303.2" stroke="#000" stroke-width="0.8"/>
<rect x="195.9" y="304.68" width="4.3" height="9.32" fill="#fff" stroke="#444" stroke-width="0.8"/>
<line x1="203.35" y1="294.74" x2="203.35" y2="297.44" stroke="#000" stroke-width="0.75"/>
<line x1="202.15" y1="294.74" x2="204.55" y2="294.74" stroke="#000" stroke-width="0.8"/>
<rect x="200.6" y="297.44" width="5.5" height="16.56" fill="#000"/>
<line x1="215.5" y1="237.77" x2="215.5" y2="257.12" stroke="#000" stroke-width="0.75"/>
<line x1="214.3" y1="237.77" x2="216.7" y2="237.77" stroke="#000" stroke-width="0.8"/>
<rect x="213.4" y="257.52" width="4.2" height="56.48" fill="#fff" stroke="#444" stroke-width="0.8"/>
<line x1="220.8" y1="192.5" x2="220.8" y2="195.2" stroke="#000" stroke-width="0.75"/>
<line x1="219.6" y1="192.5" x2="222" y2="192.5" stroke="#000" stroke-width="0.8"/>
<rect x="218" y="195.2" width="5.6" height="118.8" fill="#000"/>
<line x1="232.75" y1="213.2" x2="232.75" y2="216.8" stroke="#000" stroke-width="0.75"/>
<line x1="231.55" y1="213.2" x2="233.95" y2="213.2" stroke="#000" stroke-width="0.8"/>
<rect x="230.8" y="217.2" width="3.9" height="96.8" fill="#fff" stroke="#444" stroke-width="0.8"/>
<line x1="237.85" y1="205.28" x2="237.85" y2="217.88" stroke="#000" stroke-width="0.75"/>
<line x1="236.65" y1="205.28" x2="239.05" y2="205.28" stroke="#000" stroke-width="0.8"/>
<rect x="235.1" y="217.88" width="5.5" height="96.12" fill="#000"/>
<line x1="249.95" y1="296.27" x2="249.95" y2="299.42" stroke="#000" stroke-width="0.75"/>
<line x1="248.75" y1="296.27" x2="251.15" y2="296.27" stroke="#000" stroke-width="0.8"/>
<rect x="247.8" y="299.82" width="4.3" height="14.18" fill="#fff" stroke="#444" stroke-width="0.8"/>
<line x1="255.4" y1="246.95" x2="255.4" y2="251.45" stroke="#000" stroke-width="0.75"/>
<line x1="254.2" y1="246.95" x2="256.6" y2="246.95" stroke="#000" stroke-width="0.8"/>
<rect x="252.5" y="251.45" width="5.8" height="62.55" fill="#000"/>
<path d="M179.6 218.3V214.6H186.5V218.3" fill="none" stroke="#555" stroke-width="0.8"/>
<path d="M181.30 209.80L182.02 210.51L182.92 210.97L182.46 211.88L182.30 212.88L181.30 212.72L180.30 212.88L180.14 211.88L179.68 210.97L180.58 210.51z" fill="#000"/>
<path d="M185.10 209.80L185.82 210.51L186.72 210.97L186.26 211.88L186.10 212.88L185.10 212.72L184.10 212.88L183.94 211.88L183.48 210.97L184.38 210.51z" fill="#000"/>
<path d="M248.7 243.5V240.6H255.3V243.5" fill="none" stroke="#555" stroke-width="0.8"/>
<path d="M252.20 236.30L252.92 237.01L253.82 237.47L253.36 238.38L253.20 239.38L252.20 239.22L251.20 239.38L251.04 238.38L250.58 237.47L251.48 237.01z" fill="#000"/>
<text transform="translate(171.3,320.4) rotate(-45)" font-size="8.6" text-anchor="end">Medium</text>
<text transform="translate(187.8,320.4) rotate(-45)" font-size="8.6" text-anchor="end">Anti-NK1.1</text>
<text transform="translate(205.3,320.4) rotate(-45)" font-size="8.6" text-anchor="end">Anti-CD16</text>
<text transform="translate(223.1,320.4) rotate(-45)" font-size="8.6" text-anchor="end">Anti-Ly49D</text>
<text transform="translate(240.6,320.4) rotate(-45)" font-size="8.6" text-anchor="end">IL-12</text>
<text transform="translate(257.4,320.4) rotate(-45)" font-size="8.6" text-anchor="end">YAC-1</text>
<text transform="translate(144.1,240.6) rotate(-90) scale(1,0.909)" font-size="8.3" text-anchor="middle">IFN-γ (ng/mL)</text>
<text transform="translate(279.48,14.1) scale(0.97,1.06)" font-size="17.2" font-weight="bold">D</text>
<line x1="306.2" y1="21.66" x2="306.2" y2="113.15" stroke="#000" stroke-width="1.0"/>
<line x1="306.2" y1="112.7" x2="308.7" y2="112.7" stroke="#000" stroke-width="0.9"/>
<text transform="translate(303.3,114.84) scale(1,1.1)" font-size="6.1" text-anchor="end">0</text>
<line x1="306.2" y1="101.37" x2="308.7" y2="101.37" stroke="#000" stroke-width="0.9"/>
<text transform="translate(303.3,103.51) scale(1,1.1)" font-size="6.1" text-anchor="end">0.1</text>
<line x1="306.2" y1="90.04" x2="308.7" y2="90.04" stroke="#000" stroke-width="0.9"/>
<text transform="translate(303.3,92.18) scale(1,1.1)" font-size="6.1" text-anchor="end">0.2</text>
<line x1="306.2" y1="78.71" x2="308.7" y2="78.71" stroke="#000" stroke-width="0.9"/>
<text transform="translate(303.3,80.85) scale(1,1.1)" font-size="6.1" text-anchor="end">0.3</text>
<line x1="306.2" y1="67.38" x2="308.7" y2="67.38" stroke="#000" stroke-width="0.9"/>
<text transform="translate(303.3,69.52) scale(1,1.1)" font-size="6.1" text-anchor="end">0.4</text>
<line x1="306.2" y1="56.05" x2="308.7" y2="56.05" stroke="#000" stroke-width="0.9"/>
<text transform="translate(303.3,58.19) scale(1,1.1)" font-size="6.1" text-anchor="end">0.5</text>
<line x1="306.2" y1="44.72" x2="308.7" y2="44.72" stroke="#000" stroke-width="0.9"/>
<text transform="translate(303.3,46.86) scale(1,1.1)" font-size="6.1" text-anchor="end">0.6</text>
<line x1="306.2" y1="33.39" x2="308.7" y2="33.39" stroke="#000" stroke-width="0.9"/>
<text transform="translate(303.3,35.53) scale(1,1.1)" font-size="6.1" text-anchor="end">0.7</text>
<line x1="306.2" y1="22.06" x2="308.7" y2="22.06" stroke="#000" stroke-width="0.9"/>
<text transform="translate(303.3,24.2) scale(1,1.1)" font-size="6.1" text-anchor="end">0.8</text>
<line x1="305.8" y1="112.7" x2="376.3" y2="112.7" stroke="#000" stroke-width="1.0"/>
<line x1="328.45" y1="26.6" x2="328.45" y2="43.36" stroke="#000" stroke-width="0.75"/>
<line x1="326.55" y1="26.6" x2="330.35" y2="26.6" stroke="#000" stroke-width="0.8"/>
<rect x="321.7" y="43.76" width="13.5" height="68.94" fill="#fff" stroke="#444" stroke-width="0.8"/>
<line x1="354.15" y1="89.5" x2="354.15" y2="92" stroke="#000" stroke-width="0.75"/>
<line x1="352.25" y1="89.5" x2="356.05" y2="89.5" stroke="#000" stroke-width="0.8"/>
<rect x="347" y="92" width="14.3" height="20.7" fill="#000"/>
<path d="M328.3 23.6V21.1H354V23.6" fill="none" stroke="#555" stroke-width="0.8"/>
<path d="M340.80 16.70L341.52 17.41L342.42 17.87L341.96 18.78L341.80 19.78L340.80 19.62L339.80 19.78L339.64 18.78L339.18 17.87L340.08 17.41z" fill="#000"/>
<text transform="translate(341.6,122.4) scale(1,1.1)" font-size="8.3" text-anchor="middle">Anti-NK1.1</text>
<text transform="translate(288.3,59.6) rotate(-90) scale(1,0.909)" font-size="8.1" text-anchor="middle">IFN-γ (ng/mL)</text>
<line x1="388.1" y1="21.86" x2="388.1" y2="113.25" stroke="#000" stroke-width="1.0"/>
<line x1="388.1" y1="112.8" x2="390.6" y2="112.8" stroke="#000" stroke-width="0.9"/>
<text transform="translate(386,114.9) scale(1,1.1)" font-size="6.0" text-anchor="end">0</text>
<line x1="388.1" y1="102.74" x2="390.6" y2="102.74" stroke="#000" stroke-width="0.9"/>
<text transform="translate(386,104.84) scale(1,1.1)" font-size="6.0" text-anchor="end">2</text>
<line x1="388.1" y1="92.68" x2="390.6" y2="92.68" stroke="#000" stroke-width="0.9"/>
<text transform="translate(386,94.78) scale(1,1.1)" font-size="6.0" text-anchor="end">4</text>
<line x1="388.1" y1="82.62" x2="390.6" y2="82.62" stroke="#000" stroke-width="0.9"/>
<text transform="translate(386,84.72) scale(1,1.1)" font-size="6.0" text-anchor="end">6</text>
<line x1="388.1" y1="72.56" x2="390.6" y2="72.56" stroke="#000" stroke-width="0.9"/>
<text transform="translate(386,74.66) scale(1,1.1)" font-size="6.0" text-anchor="end">8</text>
<line x1="388.1" y1="62.5" x2="390.6" y2="62.5" stroke="#000" stroke-width="0.9"/>
<text transform="translate(386,64.6) scale(1,1.1)" font-size="6.0" text-anchor="end">10</text>
<line x1="388.1" y1="52.44" x2="390.6" y2="52.44" stroke="#000" stroke-width="0.9"/>
<text transform="translate(386,54.54) scale(1,1.1)" font-size="6.0" text-anchor="end">12</text>
<line x1="388.1" y1="42.38" x2="390.6" y2="42.38" stroke="#000" stroke-width="0.9"/>
<text transform="translate(386,44.48) scale(1,1.1)" font-size="6.0" text-anchor="end">14</text>
<line x1="388.1" y1="32.32" x2="390.6" y2="32.32" stroke="#000" stroke-width="0.9"/>
<text transform="translate(386,34.42) scale(1,1.1)" font-size="6.0" text-anchor="end">16</text>
<line x1="388.1" y1="22.26" x2="390.6" y2="22.26" stroke="#000" stroke-width="0.9"/>
<text transform="translate(386,24.36) scale(1,1.1)" font-size="6.0" text-anchor="end">18</text>
<line x1="387.7" y1="112.8" x2="453.2" y2="112.8" stroke="#000" stroke-width="1.0"/>
<line x1="408.7" y1="31.2" x2="408.7" y2="35.4" stroke="#000" stroke-width="0.75"/>
<line x1="406.8" y1="31.2" x2="410.6" y2="31.2" stroke="#000" stroke-width="0.8"/>
<rect x="402" y="35.8" width="13.4" height="77" fill="#fff" stroke="#444" stroke-width="0.8"/>
<line x1="432.65" y1="88.7" x2="432.65" y2="92.3" stroke="#000" stroke-width="0.75"/>
<line x1="430.75" y1="88.7" x2="434.55" y2="88.7" stroke="#000" stroke-width="0.8"/>
<rect x="425.8" y="92.3" width="13.7" height="20.5" fill="#000"/>
<path d="M407.5 28V24.2H431.3V28.4" fill="none" stroke="#555" stroke-width="0.8"/>
<path d="M416.60 19.70L417.32 20.41L418.22 20.87L417.76 21.78L417.60 22.78L416.60 22.62L415.60 22.78L415.44 21.78L414.98 20.87L415.88 20.41z" fill="#000"/>
<path d="M420.90 19.70L421.62 20.41L422.52 20.87L422.06 21.78L421.90 22.78L420.90 22.62L419.90 22.78L419.74 21.78L419.28 20.87L420.18 20.41z" fill="#000"/>
<text transform="translate(420.8,122.3) scale(1,1.1)" font-size="8.0" text-anchor="middle">Anti-CD3</text>
<text transform="translate(278.08,139.5) scale(0.97,1.06)" font-size="17.2" font-weight="bold">E</text>
<line x1="305.4" y1="136.7" x2="305.4" y2="234.15" stroke="#000" stroke-width="1.0"/>
<line x1="305.4" y1="233.7" x2="303.6" y2="233.7" stroke="#000" stroke-width="0.9"/>
<text transform="translate(300.8,235.66) scale(1,1.1)" font-size="5.6" text-anchor="end">0</text>
<line x1="305.4" y1="219.9" x2="303.6" y2="219.9" stroke="#000" stroke-width="0.9"/>
<text transform="translate(300.8,221.86) scale(1,1.1)" font-size="5.6" text-anchor="end">10</text>
<line x1="305.4" y1="206.1" x2="303.6" y2="206.1" stroke="#000" stroke-width="0.9"/>
<text transform="translate(300.8,208.06) scale(1,1.1)" font-size="5.6" text-anchor="end">20</text>
<line x1="305.4" y1="192.3" x2="303.6" y2="192.3" stroke="#000" stroke-width="0.9"/>
<text transform="translate(300.8,194.26) scale(1,1.1)" font-size="5.6" text-anchor="end">30</text>
<line x1="305.4" y1="178.5" x2="303.6" y2="178.5" stroke="#000" stroke-width="0.9"/>
<text transform="translate(300.8,180.46) scale(1,1.1)" font-size="5.6" text-anchor="end">40</text>
<line x1="305.4" y1="164.7" x2="303.6" y2="164.7" stroke="#000" stroke-width="0.9"/>
<text transform="translate(300.8,166.66) scale(1,1.1)" font-size="5.6" text-anchor="end">50</text>
<line x1="305.4" y1="150.9" x2="303.6" y2="150.9" stroke="#000" stroke-width="0.9"/>
<text transform="translate(300.8,152.86) scale(1,1.1)" font-size="5.6" text-anchor="end">60</text>
<line x1="305.4" y1="137.1" x2="303.6" y2="137.1" stroke="#000" stroke-width="0.9"/>
<text transform="translate(300.8,139.06) scale(1,1.1)" font-size="5.6" text-anchor="end">70</text>
<line x1="305" y1="233.7" x2="375.5" y2="233.7" stroke="#000" stroke-width="1.0"/>
<line x1="328.15" y1="158.8" x2="328.15" y2="175.5" stroke="#000" stroke-width="0.75"/>
<line x1="326.25" y1="158.8" x2="330.05" y2="158.8" stroke="#000" stroke-width="0.8"/>
<rect x="322.2" y="175.9" width="11.9" height="57.8" fill="#fff" stroke="#444" stroke-width="0.8"/>
<line x1="353.5" y1="209" x2="353.5" y2="212.5" stroke="#000" stroke-width="0.75"/>
<line x1="351.6" y1="209" x2="355.4" y2="209" stroke="#000" stroke-width="0.8"/>
<rect x="347" y="212.5" width="13" height="21.2" fill="#000"/>
<path d="M327.6 152.5V146.7H352.4V152.5" fill="none" stroke="#555" stroke-width="0.8"/>
<path d="M340.10 142.30L340.82 143.01L341.72 143.47L341.26 144.38L341.10 145.38L340.10 145.22L339.10 145.38L338.94 144.38L338.48 143.47L339.38 143.01z" fill="#000"/>
<text transform="translate(340.7,243.7) scale(1,1.1)" font-size="8.2" text-anchor="middle">α-GalCer</text>
<text transform="translate(287.7,185.4) rotate(-90) scale(1,0.909)" font-size="8.1" text-anchor="middle">IFN-γ (ng/mL)</text>
<line x1="405.5" y1="137.1" x2="405.5" y2="234.05" stroke="#000" stroke-width="1.0"/>
<line x1="405.5" y1="233.6" x2="403.7" y2="233.6" stroke="#000" stroke-width="0.9"/>
<text transform="translate(401.6,235.56) scale(1,1.1)" font-size="5.6" text-anchor="end">0</text>
<line x1="405.5" y1="214.38" x2="403.7" y2="214.38" stroke="#000" stroke-width="0.9"/>
<text transform="translate(401.6,216.34) scale(1,1.1)" font-size="5.6" text-anchor="end">0.5</text>
<line x1="405.5" y1="195.16" x2="403.7" y2="195.16" stroke="#000" stroke-width="0.9"/>
<text transform="translate(401.6,197.12) scale(1,1.1)" font-size="5.6" text-anchor="end">1.0</text>
<line x1="405.5" y1="175.94" x2="403.7" y2="175.94" stroke="#000" stroke-width="0.9"/>
<text transform="translate(401.6,177.9) scale(1,1.1)" font-size="5.6" text-anchor="end">1.5</text>
<line x1="405.5" y1="156.72" x2="403.7" y2="156.72" stroke="#000" stroke-width="0.9"/>
<text transform="translate(401.6,158.68) scale(1,1.1)" font-size="5.6" text-anchor="end">2.0</text>
<line x1="405.5" y1="137.5" x2="403.7" y2="137.5" stroke="#000" stroke-width="0.9"/>
<text transform="translate(401.6,139.46) scale(1,1.1)" font-size="5.6" text-anchor="end">2.5</text>
<line x1="405.1" y1="233.6" x2="470.5" y2="233.6" stroke="#000" stroke-width="1.0"/>
<line x1="425.65" y1="150.5" x2="425.65" y2="169.3" stroke="#000" stroke-width="0.75"/>
<line x1="423.75" y1="150.5" x2="427.55" y2="150.5" stroke="#000" stroke-width="0.8"/>
<rect x="419.2" y="169.7" width="12.9" height="63.9" fill="#fff" stroke="#444" stroke-width="0.8"/>
<line x1="450.05" y1="212" x2="450.05" y2="217.5" stroke="#000" stroke-width="0.75"/>
<line x1="448.15" y1="212" x2="451.95" y2="212" stroke="#000" stroke-width="0.8"/>
<rect x="443.8" y="217.5" width="12.5" height="16.1" fill="#000"/>
<path d="M425.6 146.5V142.9H449.7V146.5" fill="none" stroke="#555" stroke-width="0.8"/>
<path d="M436.10 138.30L436.82 139.01L437.72 139.47L437.26 140.38L437.10 141.38L436.10 141.22L435.10 141.38L434.94 140.38L434.48 139.47L435.38 139.01z" fill="#000"/>
<text transform="translate(437.9,243.6) scale(1,1.1)" font-size="8.2" text-anchor="middle">α-GalCer</text>
<text transform="translate(388,182.4) rotate(-90) scale(1,0.909)" font-size="8.1" text-anchor="middle">IL-4 (ng/mL)</text>
<text transform="translate(280.08,250.3) scale(0.97,1.06)" font-size="17.2" font-weight="bold">F</text>
<line x1="300.2" y1="256.74" x2="300.2" y2="331.75" stroke="#000" stroke-width="1.0"/>
<line x1="300.2" y1="331.3" x2="297.6" y2="331.3" stroke="#000" stroke-width="0.9"/>
<text transform="translate(295.9,333.26) scale(1,1.1)" font-size="5.6" text-anchor="end">0</text>
<line x1="300.2" y1="318.94" x2="297.6" y2="318.94" stroke="#000" stroke-width="0.9"/>
<text transform="translate(295.9,320.9) scale(1,1.1)" font-size="5.6" text-anchor="end">2</text>
<line x1="300.2" y1="306.58" x2="297.6" y2="306.58" stroke="#000" stroke-width="0.9"/>
<text transform="translate(295.9,308.54) scale(1,1.1)" font-size="5.6" text-anchor="end">4</text>
<line x1="300.2" y1="294.22" x2="297.6" y2="294.22" stroke="#000" stroke-width="0.9"/>
<text transform="translate(295.9,296.18) scale(1,1.1)" font-size="5.6" text-anchor="end">6</text>
<line x1="300.2" y1="281.86" x2="297.6" y2="281.86" stroke="#000" stroke-width="0.9"/>
<text transform="translate(295.9,283.82) scale(1,1.1)" font-size="5.6" text-anchor="end">8</text>
<line x1="300.2" y1="269.5" x2="297.6" y2="269.5" stroke="#000" stroke-width="0.9"/>
<text transform="translate(295.9,271.46) scale(1,1.1)" font-size="5.6" text-anchor="end">10</text>
<line x1="300.2" y1="257.14" x2="297.6" y2="257.14" stroke="#000" stroke-width="0.9"/>
<text transform="translate(295.9,259.1) scale(1,1.1)" font-size="5.6" text-anchor="end">12</text>
<line x1="299.8" y1="331.3" x2="390.4" y2="331.3" stroke="#000" stroke-width="1.0"/>
<text transform="translate(311.4,339.3) scale(1,1.1)" font-size="7.0" text-anchor="middle">0</text>
<text transform="translate(331.9,339.3) scale(1,1.1)" font-size="7.0" text-anchor="middle">2</text>
<text transform="translate(359.9,339.3) scale(1,1.1)" font-size="7.0" text-anchor="middle">12</text>
<text transform="translate(382.9,339.3) scale(1,1.1)" font-size="7.0" text-anchor="middle">16</text>
<text transform="translate(394.9,339.3) scale(1,1.1)" font-size="7.0" text-anchor="middle">(h)</text>
<rect x="328.4" y="331.1" width="6.7" height="0.2" fill="#fff" stroke="#444" stroke-width="0.8"/>
<line x1="354.5" y1="320" x2="354.5" y2="323.5" stroke="#000" stroke-width="0.75"/>
<line x1="353.3" y1="320" x2="355.7" y2="320" stroke="#000" stroke-width="0.8"/>
<rect x="351.8" y="323.9" width="5.4" height="7.4" fill="#fff" stroke="#444" stroke-width="0.8"/>
<rect x="357.6" y="329.4" width="7" height="1.9" fill="#000"/>
<rect x="375.1" y="265.1" width="6" height="66.2" fill="#fff" stroke="#444" stroke-width="0.8"/>
<rect x="381.5" y="329.4" width="7.3" height="1.9" fill="#000"/>
<path d="M354.4 318.3V315H361.4V318.3" fill="none" stroke="#555" stroke-width="0.8"/>
<path d="M354.30 310.80L355.02 311.51L355.92 311.97L355.46 312.88L355.30 313.88L354.30 313.72L353.30 313.88L353.14 312.88L352.68 311.97L353.58 311.51z" fill="#000"/>
<path d="M358.50 310.80L359.22 311.51L360.12 311.97L359.66 312.88L359.50 313.88L358.50 313.72L357.50 313.88L357.34 312.88L356.88 311.97L357.78 311.51z" fill="#000"/>
<path d="M362.70 310.80L363.42 311.51L364.32 311.97L363.86 312.88L363.70 313.88L362.70 313.72L361.70 313.88L361.54 312.88L361.08 311.97L361.98 311.51z" fill="#000"/>
<path d="M377.7 261.5V258.7H385.1V261.5" fill="none" stroke="#555" stroke-width="0.8"/>
<path d="M375.30 253.20L376.06 253.95L377.01 254.44L376.53 255.40L376.36 256.46L375.30 256.30L374.24 256.46L374.07 255.40L373.59 254.44L374.54 253.95z" fill="#000"/>
<path d="M380.40 253.20L381.16 253.95L382.11 254.44L381.63 255.40L381.46 256.46L380.40 256.30L379.34 256.46L379.17 255.40L378.69 254.44L379.64 253.95z" fill="#000"/>
<path d="M385.40 253.20L386.16 253.95L387.11 254.44L386.63 255.40L386.46 256.46L385.40 256.30L384.34 256.46L384.17 255.40L383.69 254.44L384.64 253.95z" fill="#000"/>
<text transform="translate(287.5,293.1) rotate(-90) scale(1,0.909)" font-size="7.4" text-anchor="middle">Serum IFN-γ (ng/mL)</text>
<text transform="translate(351.8,349) scale(1,1.1)" font-size="7.55" text-anchor="middle">Post α-GalCer administration</text>
<line x1="423.5" y1="256.1" x2="423.5" y2="331.95" stroke="#000" stroke-width="1.0"/>
<line x1="423.5" y1="331.5" x2="422" y2="331.5" stroke="#000" stroke-width="0.9"/>
<text transform="translate(420.6,333.46) scale(1,1.1)" font-size="5.6" text-anchor="end">0</text>
<line x1="423.5" y1="319" x2="422" y2="319" stroke="#000" stroke-width="0.9"/>
<text transform="translate(420.6,320.96) scale(1,1.1)" font-size="5.6" text-anchor="end">1</text>
<line x1="423.5" y1="306.5" x2="422" y2="306.5" stroke="#000" stroke-width="0.9"/>
<text transform="translate(420.6,308.46) scale(1,1.1)" font-size="5.6" text-anchor="end">2</text>
<line x1="423.5" y1="294" x2="422" y2="294" stroke="#000" stroke-width="0.9"/>
<text transform="translate(420.6,295.96) scale(1,1.1)" font-size="5.6" text-anchor="end">3</text>
<line x1="423.5" y1="281.5" x2="422" y2="281.5" stroke="#000" stroke-width="0.9"/>
<text transform="translate(420.6,283.46) scale(1,1.1)" font-size="5.6" text-anchor="end">4</text>
<line x1="423.5" y1="269" x2="422" y2="269" stroke="#000" stroke-width="0.9"/>
<text transform="translate(420.6,270.96) scale(1,1.1)" font-size="5.6" text-anchor="end">5</text>
<line x1="423.5" y1="256.5" x2="422" y2="256.5" stroke="#000" stroke-width="0.9"/>
<text transform="translate(420.6,258.46) scale(1,1.1)" font-size="5.6" text-anchor="end">6</text>
<line x1="423.1" y1="331.5" x2="510.6" y2="331.5" stroke="#000" stroke-width="1.0"/>
<text transform="translate(436.3,339.3) scale(1,1.1)" font-size="7.0" text-anchor="middle">0</text>
<text transform="translate(459.4,339.3) scale(1,1.1)" font-size="7.0" text-anchor="middle">2</text>
<text transform="translate(482.5,339.3) scale(1,1.1)" font-size="7.0" text-anchor="middle">12</text>
<text transform="translate(504.4,339.3) scale(1,1.1)" font-size="7.0" text-anchor="middle">16</text>
<text transform="translate(514.4,339.3) scale(1,1.1)" font-size="7.0" text-anchor="middle">(h)</text>
<line x1="455.65" y1="271" x2="455.65" y2="280.7" stroke="#000" stroke-width="0.75"/>
<line x1="454.45" y1="271" x2="456.85" y2="271" stroke="#000" stroke-width="0.8"/>
<rect x="452.3" y="281.1" width="6.7" height="50.4" fill="#fff" stroke="#444" stroke-width="0.8"/>
<line x1="463" y1="323.4" x2="463" y2="325.4" stroke="#000" stroke-width="0.75"/>
<line x1="461.8" y1="323.4" x2="464.2" y2="323.4" stroke="#000" stroke-width="0.8"/>
<rect x="459.4" y="325.4" width="7.2" height="6.1" fill="#000"/>
<path d="M455.3 267.5V263.3H462.7V267.5" fill="none" stroke="#555" stroke-width="0.8"/>
<path d="M455.20 259.00L455.92 259.71L456.82 260.17L456.36 261.08L456.20 262.08L455.20 261.92L454.20 262.08L454.04 261.08L453.58 260.17L454.48 259.71z" fill="#000"/>
<path d="M459.30 259.00L460.02 259.71L460.92 260.17L460.46 261.08L460.30 262.08L459.30 261.92L458.30 262.08L458.14 261.08L457.68 260.17L458.58 259.71z" fill="#000"/>
<path d="M463.40 259.00L464.12 259.71L465.02 260.17L464.56 261.08L464.40 262.08L463.40 261.92L462.40 262.08L462.24 261.08L461.78 260.17L462.68 259.71z" fill="#000"/>
<text transform="translate(410.1,289.6) rotate(-90) scale(1,0.909)" font-size="7.55" text-anchor="middle">Serum IL-4 (ng/mL)</text>
<text transform="translate(470,349.2) scale(1,1.1)" font-size="7.55" text-anchor="middle">Post α-GalCer administration</text>
</svg>
</body></html>
